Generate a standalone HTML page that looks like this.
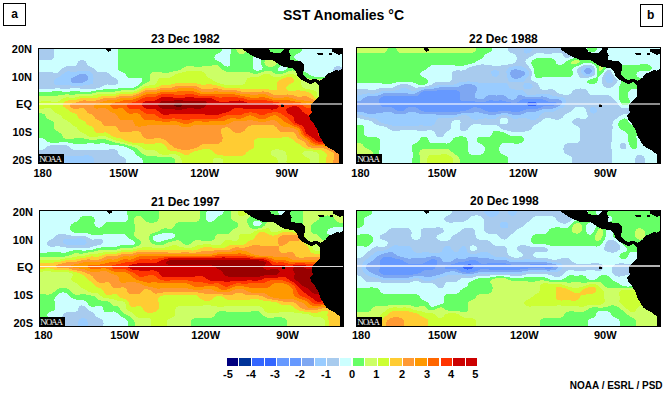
<!DOCTYPE html>
<html><head><meta charset="utf-8">
<style>
html,body{margin:0;padding:0;background:#fff;}
body{width:671px;height:393px;position:relative;overflow:hidden;font-family:"Liberation Sans",sans-serif;font-weight:bold;color:#000;}
.t{position:absolute;white-space:nowrap;line-height:1;}
.box{position:absolute;border:1px solid #000;box-sizing:border-box;width:23px;height:23px;}
.map{position:absolute;overflow:hidden;background:#ccffff;}
.frame{position:absolute;left:0;top:0;right:0;bottom:0;border:1px solid #000;box-sizing:border-box;}
.eq{position:absolute;left:1px;right:1px;height:1px;background:rgba(255,255,255,0.6);}
.map svg{position:absolute;left:0;top:0;display:block;}
.lat{position:absolute;white-space:nowrap;line-height:1;font-size:11px;text-align:right;width:30px;}
.lon{position:absolute;white-space:nowrap;line-height:1;font-size:11px;}
.noaa{position:absolute;left:0;bottom:0;width:26px;height:10px;background:#000;color:#fff;font-family:"Liberation Serif",serif;font-weight:normal;font-size:9px;line-height:11px;text-align:left;padding-left:1.3px;box-sizing:border-box;letter-spacing:-1.1px;overflow:hidden;}
.cb{position:absolute;top:358px;height:8px;width:11.5px;}
.cl{position:absolute;top:369px;font-size:11px;line-height:1;white-space:nowrap;}
</style></head><body>
<div class="box" style="left:3px;top:3px;"></div>
<div class="t" style="left:11.3px;top:7.6px;font-size:12px;">a</div>
<div class="box" style="left:640px;top:4px;"></div>
<div class="t" style="left:647px;top:8.7px;font-size:12px;">b</div>
<div class="t" style="left:283px;top:8px;font-size:14px;">SST Anomalies °C</div>

<div class="t" style="left:151px;top:33px;font-size:12px;">23 Dec 1982</div>
<div class="t" style="left:469px;top:33px;font-size:12px;">22 Dec 1988</div>
<div class="t" style="left:151px;top:196px;font-size:12px;">21 Dec 1997</div>
<div class="t" style="left:470px;top:195px;font-size:12px;">20 Dec 1998</div>

<div class="map" id="m1" style="left:38px;top:48px;width:305px;height:116px;"><svg width="305" height="116" viewBox="0 0 305 116" shape-rendering="crispEdges"><path fill="#7ea7f2" d="M41 26h7v1h-7zM39 27h10v1h-10zM37 28h13v1h-13zM35 29h15v1h-15zM33 30h17v2h-17zM33 32h16v1h-16zM33 33h14v1h-14zM34 34h11v1h-11z"/><path fill="#99ccff" d="M29 23h3v1h-3zM39 23h13v1h-13zM27 24h26v1h-26zM26 25h28v1h-28zM24 26h17v1h-17zM48 26h7v1h-7zM23 27h16v1h-16zM49 27h6v1h-6zM22 28h15v1h-15zM50 28h5v2h-5zM20 29h15v1h-15zM18 30h15v1h-15zM50 30h6v1h-6zM17 31h16v1h-16zM50 31h5v1h-5zM16 32h17v2h-17zM49 32h6v1h-6zM47 33h8v1h-8zM16 34h18v1h-18zM45 34h10v1h-10zM16 35h39v1h-39zM17 36h35v1h-35zM33 37h12v1h-12zM46 107h5v1h-5zM19 108h35v1h-35zM17 109h38v1h-38zM16 110h40v6h-40z"/><path fill="#a8cbee" d="M0 0h16v10h-16zM0 10h15v1h-15zM0 11h14v1h-14zM42 12h4v1h-4zM40 13h8v2h-8zM39 15h10v2h-10zM38 17h12v1h-12zM28 18h24v1h-24zM298 18h4v1h-4zM26 19h28v1h-28zM296 19h8v1h-8zM24 20h32v1h-32zM296 20h9v1h-9zM23 21h34v1h-34zM295 21h8v1h-8zM22 22h36v1h-36zM295 22h2v1h-2zM300 22h1v1h-1zM21 23h8v1h-8zM32 23h7v1h-7zM52 23h7v1h-7zM0 24h15v1h-15zM20 24h7v1h-7zM53 24h16v1h-16zM0 25h26v1h-26zM54 25h17v1h-17zM0 26h24v1h-24zM55 26h17v1h-17zM0 27h23v1h-23zM55 27h18v1h-18zM0 28h22v1h-22zM55 28h19v1h-19zM0 29h20v1h-20zM55 29h21v1h-21zM0 30h18v1h-18zM56 30h22v1h-22zM0 31h17v1h-17zM55 31h24v1h-24zM0 32h16v4h-16zM55 32h25v4h-25zM0 36h17v1h-17zM52 36h17v1h-17zM70 36h8v1h-8zM0 37h33v1h-33zM45 37h21v1h-21zM0 38h64v1h-64zM0 39h62v1h-62zM0 40h17v1h-17zM22 40h10v1h-10zM42 40h16v1h-16zM12 97h17v1h-17zM9 98h22v1h-22zM8 99h24v1h-24zM7 100h26v1h-26zM5 101h30v1h-30zM71 101h6v1h-6zM0 102h79v1h-79zM0 103h80v3h-80zM0 106h81v1h-81zM0 107h46v1h-46zM51 107h31v1h-31zM0 108h19v1h-19zM54 108h30v1h-30zM0 109h17v1h-17zM55 109h31v1h-31zM0 110h16v6h-16zM56 110h31v1h-31zM56 111h32v5h-32z"/><path fill="#ccffff" d="M16 0h52v2h-52zM72 0h8v1h-8zM184 0h9v3h-9zM264 0h41v1h-41zM73 1h7v2h-7zM264 1h30v2h-30zM16 2h53v1h-53zM16 3h54v1h-54zM71 3h9v1h-9zM183 3h10v1h-10zM263 3h31v1h-31zM16 4h64v6h-64zM182 4h11v1h-11zM262 4h34v1h-34zM180 5h13v1h-13zM260 5h19v1h-19zM285 5h6v2h-6zM294 5h4v1h-4zM304 5h1v1h-1zM178 6h14v1h-14zM258 6h22v1h-22zM294 6h6v1h-6zM302 6h3v1h-3zM177 7h15v2h-15zM257 7h48v1h-48zM256 8h49v2h-49zM176 9h16v1h-16zM215 9h3v1h-3zM15 10h65v1h-65zM177 10h15v2h-15zM215 10h6v1h-6zM257 10h48v1h-48zM14 11h66v1h-66zM215 11h8v6h-8zM258 11h47v1h-47zM0 12h42v1h-42zM46 12h34v1h-34zM179 12h13v1h-13zM260 12h45v1h-45zM0 13h40v2h-40zM48 13h32v2h-32zM181 13h11v1h-11zM263 13h42v1h-42zM183 14h9v1h-9zM264 14h41v1h-41zM0 15h39v2h-39zM49 15h31v2h-31zM184 15h8v1h-8zM265 15h40v1h-40zM185 16h7v1h-7zM266 16h39v2h-39zM0 17h38v1h-38zM50 17h30v1h-30zM186 17h6v1h-6zM215 17h9v2h-9zM0 18h28v1h-28zM52 18h28v1h-28zM189 18h1v1h-1zM242 18h3v1h-3zM266 18h32v1h-32zM302 18h3v1h-3zM0 19h26v1h-26zM54 19h26v1h-26zM215 19h10v1h-10zM241 19h8v1h-8zM266 19h30v2h-30zM304 19h1v1h-1zM0 20h24v1h-24zM56 20h24v1h-24zM215 20h9v1h-9zM240 20h9v1h-9zM0 21h23v1h-23zM57 21h23v1h-23zM216 21h8v1h-8zM240 21h8v1h-8zM266 21h29v3h-29zM0 22h22v1h-22zM58 22h23v1h-23zM218 22h3v1h-3zM240 22h6v1h-6zM0 23h21v1h-21zM59 23h24v1h-24zM15 24h5v1h-5zM69 24h16v1h-16zM268 24h25v1h-25zM71 25h16v1h-16zM270 25h20v1h-20zM72 26h16v1h-16zM271 26h18v1h-18zM73 27h15v1h-15zM273 27h15v1h-15zM74 28h15v1h-15zM276 28h11v1h-11zM76 29h14v1h-14zM78 30h26v1h-26zM79 31h25v1h-25zM80 32h24v2h-24zM80 34h23v1h-23zM80 35h22v1h-22zM69 36h1v1h-1zM78 36h23v1h-23zM66 37h34v1h-34zM64 38h34v1h-34zM62 39h34v1h-34zM17 40h5v1h-5zM32 40h10v1h-10zM58 40h22v1h-22zM0 41h65v1h-65zM0 42h58v1h-58zM0 43h14v1h-14zM24 43h8v1h-8zM42 43h11v1h-11zM0 90h5v1h-5zM0 91h7v1h-7zM0 92h8v1h-8zM0 93h9v1h-9zM0 94h12v1h-12zM21 94h9v1h-9zM0 95h35v1h-35zM49 95h7v1h-7zM62 95h5v1h-5zM0 96h71v1h-71zM0 97h12v1h-12zM29 97h52v1h-52zM0 98h9v1h-9zM31 98h55v1h-55zM0 99h8v1h-8zM32 99h57v1h-57zM0 100h7v1h-7zM33 100h58v1h-58zM0 101h5v1h-5zM35 101h36v1h-36zM77 101h16v1h-16zM79 102h16v1h-16zM80 103h16v1h-16zM80 104h17v2h-17zM81 106h17v1h-17zM82 107h17v1h-17zM84 108h17v1h-17zM86 109h16v1h-16zM87 110h17v1h-17zM88 111h16v1h-16zM88 112h17v4h-17z"/><path fill="#66ff66" d="M80 0h104v3h-104zM193 0h5v2h-5zM230 0h16v1h-16zM252 0h12v2h-12zM231 1h15v1h-15zM193 2h6v2h-6zM232 2h13v1h-13zM251 2h13v1h-13zM80 3h103v1h-103zM232 3h12v1h-12zM251 3h12v1h-12zM80 4h102v1h-102zM193 4h7v1h-7zM207 4h2v1h-2zM235 4h8v1h-8zM251 4h11v1h-11zM80 5h100v1h-100zM193 5h8v1h-8zM206 5h5v1h-5zM252 5h8v1h-8zM80 6h98v1h-98zM192 6h20v1h-20zM252 6h6v1h-6zM80 7h97v2h-97zM192 7h22v1h-22zM253 7h4v1h-4zM192 8h24v1h-24zM252 8h4v2h-4zM80 9h96v1h-96zM192 9h23v9h-23zM80 10h97v2h-97zM252 10h5v1h-5zM252 11h6v1h-6zM80 12h99v1h-99zM223 12h4v2h-4zM256 12h4v1h-4zM80 13h101v1h-101zM80 14h103v1h-103zM223 14h3v1h-3zM80 15h104v1h-104zM223 15h4v2h-4zM239 15h1v1h-1zM80 16h105v1h-105zM238 16h3v1h-3zM80 17h94v1h-94zM180 17h6v1h-6zM224 17h4v1h-4zM237 17h6v1h-6zM80 18h68v1h-68zM156 18h8v1h-8zM181 18h8v1h-8zM190 18h25v1h-25zM224 18h6v1h-6zM235 18h7v1h-7zM80 19h66v1h-66zM182 19h33v1h-33zM225 19h16v1h-16zM249 19h1v1h-1zM80 20h64v1h-64zM183 20h32v1h-32zM224 20h16v2h-16zM249 20h6v1h-6zM80 21h63v1h-63zM184 21h32v1h-32zM248 21h8v1h-8zM81 22h59v1h-59zM186 22h32v1h-32zM221 22h19v1h-19zM246 22h8v1h-8zM255 22h2v1h-2zM83 23h52v1h-52zM188 23h38v1h-38zM234 23h16v1h-16zM265 23h1v1h-1zM85 24h29v1h-29zM124 24h7v1h-7zM212 24h11v1h-11zM235 24h13v1h-13zM265 24h3v1h-3zM87 25h26v1h-26zM215 25h5v1h-5zM237 25h8v1h-8zM265 25h5v1h-5zM88 26h24v2h-24zM265 26h6v1h-6zM266 27h7v1h-7zM89 28h23v1h-23zM267 28h9v1h-9zM90 29h22v1h-22zM268 29h19v1h-19zM104 30h8v3h-8zM271 30h14v1h-14zM104 33h7v1h-7zM103 34h6v1h-6zM102 35h5v1h-5zM101 36h4v1h-4zM100 37h4v1h-4zM98 38h4v1h-4zM96 39h5v1h-5zM80 40h19v1h-19zM65 41h32v1h-32zM58 42h25v1h-25zM14 43h10v1h-10zM32 43h10v1h-10zM53 43h24v1h-24zM0 44h58v1h-58zM0 45h54v1h-54zM0 46h27v1h-27zM31 46h6v1h-6zM0 47h20v1h-20zM0 65h4v1h-4zM0 66h7v2h-7zM0 68h8v2h-8zM0 70h9v1h-9zM0 71h11v1h-11zM0 72h13v1h-13zM0 73h15v1h-15zM0 74h16v7h-16zM0 81h17v1h-17zM0 82h18v1h-18zM0 83h20v1h-20zM0 84h21v1h-21zM0 85h23v1h-23zM0 86h24v2h-24zM0 88h25v2h-25zM5 90h22v1h-22zM36 90h10v1h-10zM7 91h44v1h-44zM59 91h9v1h-9zM8 92h63v1h-63zM9 93h65v1h-65zM12 94h9v1h-9zM30 94h47v1h-47zM35 95h14v1h-14zM56 95h6v1h-6zM67 95h15v1h-15zM71 96h16v1h-16zM81 97h9v1h-9zM86 98h8v1h-8zM89 99h8v1h-8zM91 100h8v1h-8zM93 101h7v1h-7zM95 102h6v1h-6zM96 103h6v1h-6zM97 104h6v1h-6zM97 105h7v1h-7zM98 106h8v1h-8zM99 107h9v1h-9zM101 108h18v1h-18zM102 109h32v1h-32zM104 110h32v1h-32zM104 111h33v1h-33zM105 112h32v4h-32z"/><path fill="#ccff66" d="M198 0h7v2h-7zM199 2h7v1h-7zM199 3h9v1h-9zM200 4h7v1h-7zM201 5h5v1h-5zM227 12h8v1h-8zM227 13h10v1h-10zM226 14h12v1h-12zM227 15h12v1h-12zM227 16h11v1h-11zM174 17h6v1h-6zM228 17h9v1h-9zM148 18h8v1h-8zM164 18h17v1h-17zM230 18h5v1h-5zM146 19h36v1h-36zM144 20h39v1h-39zM143 21h41v1h-41zM140 22h46v1h-46zM254 22h1v1h-1zM135 23h13v1h-13zM164 23h24v1h-24zM226 23h8v1h-8zM250 23h8v1h-8zM114 24h10v1h-10zM131 24h13v1h-13zM166 24h46v1h-46zM223 24h12v1h-12zM248 24h10v1h-10zM113 25h27v1h-27zM167 25h48v1h-48zM220 25h17v1h-17zM245 25h14v1h-14zM112 26h25v1h-25zM168 26h57v1h-57zM232 26h17v1h-17zM256 26h3v1h-3zM112 27h24v1h-24zM168 27h55v1h-55zM233 27h13v1h-13zM258 27h1v1h-1zM112 28h22v1h-22zM169 28h52v1h-52zM235 28h8v1h-8zM259 28h1v1h-1zM112 29h20v1h-20zM170 29h42v1h-42zM260 29h1v1h-1zM112 30h9v1h-9zM172 30h37v1h-37zM261 30h1v1h-1zM269 30h2v1h-2zM112 31h8v2h-8zM174 31h35v1h-35zM262 31h1v1h-1zM271 31h3v1h-3zM279 31h5v1h-5zM175 32h33v1h-33zM263 32h2v1h-2zM281 32h1v1h-1zM111 33h8v1h-8zM177 33h31v1h-31zM263 33h4v1h-4zM109 34h10v1h-10zM179 34h28v1h-28zM263 34h6v1h-6zM276 34h2v1h-2zM107 35h11v1h-11zM182 35h25v1h-25zM263 35h8v1h-8zM274 35h5v1h-5zM105 36h12v1h-12zM186 36h19v1h-19zM263 36h17v1h-17zM104 37h7v1h-7zM264 37h17v2h-17zM102 38h4v1h-4zM101 39h3v1h-3zM265 39h16v1h-16zM99 40h4v1h-4zM267 40h14v1h-14zM97 41h4v1h-4zM272 41h9v1h-9zM83 42h16v1h-16zM276 42h5v1h-5zM77 43h19v1h-19zM278 43h3v1h-3zM58 44h24v1h-24zM279 44h2v4h-2zM54 45h24v1h-24zM27 46h4v1h-4zM37 46h22v1h-22zM20 47h35v1h-35zM0 48h41v1h-41zM280 48h1v1h-1zM0 49h28v1h-28zM31 49h6v1h-6zM0 50h25v1h-25zM0 51h23v1h-23zM0 52h22v1h-22zM0 53h3v1h-3zM13 53h7v1h-7zM6 60h7v1h-7zM0 61h14v1h-14zM0 62h15v1h-15zM0 63h16v1h-16zM0 64h17v1h-17zM4 65h15v1h-15zM7 66h14v1h-14zM7 67h16v1h-16zM8 68h16v2h-16zM9 70h16v1h-16zM11 71h16v1h-16zM13 72h16v1h-16zM15 73h15v1h-15zM16 74h16v1h-16zM16 75h17v1h-17zM16 76h18v1h-18zM16 77h19v1h-19zM16 78h21v1h-21zM16 79h23v2h-23zM17 81h23v1h-23zM18 82h23v1h-23zM20 83h22v1h-22zM21 84h23v1h-23zM23 85h23v1h-23zM24 86h24v1h-24zM24 87h25v1h-25zM25 88h26v1h-26zM60 88h8v1h-8zM25 89h45v1h-45zM27 90h9v1h-9zM46 90h27v1h-27zM51 91h8v1h-8zM68 91h7v1h-7zM71 92h7v1h-7zM74 93h8v1h-8zM77 94h9v1h-9zM82 95h7v1h-7zM87 96h7v1h-7zM90 97h10v1h-10zM94 98h8v1h-8zM97 99h7v1h-7zM99 100h6v1h-6zM100 101h7v1h-7zM237 101h4v1h-4zM101 102h16v1h-16zM234 102h11v1h-11zM102 103h17v1h-17zM233 103h14v1h-14zM266 103h9v1h-9zM103 104h17v1h-17zM233 104h15v3h-15zM265 104h14v1h-14zM104 105h17v1h-17zM264 105h16v1h-16zM106 106h18v1h-18zM131 106h7v1h-7zM265 106h16v1h-16zM108 107h32v1h-32zM234 107h15v1h-15zM266 107h15v1h-15zM119 108h23v1h-23zM236 108h13v1h-13zM267 108h14v1h-14zM134 109h8v1h-8zM238 109h11v1h-11zM269 109h12v1h-12zM136 110h7v1h-7zM176 110h7v1h-7zM239 110h10v2h-10zM271 110h10v1h-10zM137 111h6v1h-6zM175 111h10v5h-10zM272 111h9v5h-9zM137 112h7v4h-7zM240 112h9v1h-9zM240 113h8v1h-8zM240 114h9v2h-9z"/><path fill="#ccff33" d="M148 23h16v1h-16zM144 24h22v1h-22zM140 25h27v1h-27zM137 26h31v1h-31zM225 26h7v1h-7zM249 26h7v1h-7zM136 27h32v1h-32zM223 27h10v1h-10zM246 27h12v1h-12zM134 28h35v1h-35zM221 28h14v1h-14zM243 28h16v1h-16zM132 29h38v1h-38zM212 29h36v1h-36zM254 29h6v1h-6zM121 30h51v1h-51zM209 30h36v1h-36zM255 30h6v1h-6zM120 31h54v1h-54zM209 31h34v1h-34zM256 31h6v1h-6zM120 32h55v1h-55zM208 32h33v1h-33zM256 32h7v2h-7zM119 33h58v1h-58zM208 33h32v1h-32zM119 34h60v1h-60zM207 34h32v2h-32zM255 34h8v1h-8zM118 35h19v1h-19zM159 35h23v1h-23zM253 35h10v1h-10zM117 36h16v1h-16zM163 36h5v1h-5zM174 36h12v1h-12zM205 36h34v1h-34zM251 36h12v1h-12zM111 37h12v1h-12zM179 37h60v1h-60zM250 37h14v1h-14zM106 38h15v1h-15zM183 38h56v1h-56zM249 38h15v1h-15zM104 39h14v1h-14zM186 39h53v1h-53zM248 39h17v1h-17zM103 40h4v1h-4zM202 40h37v1h-37zM248 40h19v1h-19zM101 41h4v1h-4zM231 41h8v1h-8zM249 41h23v1h-23zM99 42h4v1h-4zM250 42h8v1h-8zM262 42h14v1h-14zM96 43h5v1h-5zM268 43h10v1h-10zM82 44h17v1h-17zM271 44h8v1h-8zM78 45h17v1h-17zM273 45h6v1h-6zM59 46h22v1h-22zM274 46h5v1h-5zM55 47h23v1h-23zM275 47h4v1h-4zM41 48h22v1h-22zM276 48h4v2h-4zM28 49h3v1h-3zM37 49h23v1h-23zM25 50h17v1h-17zM278 50h1v1h-1zM23 51h16v1h-16zM22 52h8v1h-8zM3 53h10v1h-10zM20 53h7v1h-7zM0 54h26v1h-26zM0 55h25v4h-25zM0 59h27v1h-27zM0 60h6v1h-6zM13 60h15v1h-15zM14 61h16v1h-16zM15 62h16v1h-16zM16 63h16v1h-16zM17 64h17v1h-17zM19 65h18v1h-18zM21 66h18v1h-18zM23 67h16v1h-16zM24 68h16v2h-16zM25 70h16v1h-16zM27 71h16v1h-16zM29 72h16v1h-16zM30 73h17v1h-17zM32 74h16v1h-16zM33 75h15v1h-15zM34 76h15v1h-15zM35 77h16v1h-16zM37 78h17v1h-17zM39 79h16v1h-16zM39 80h17v1h-17zM40 81h16v1h-16zM41 82h15v1h-15zM42 83h15v1h-15zM44 84h14v1h-14zM66 84h2v1h-2zM46 85h24v1h-24zM48 86h24v1h-24zM49 87h24v1h-24zM51 88h9v1h-9zM68 88h7v1h-7zM70 89h8v1h-8zM244 89h7v1h-7zM73 90h10v1h-10zM219 90h34v1h-34zM75 91h10v1h-10zM217 91h38v1h-38zM78 92h9v1h-9zM216 92h40v1h-40zM82 93h8v1h-8zM216 93h41v1h-41zM86 94h8v1h-8zM216 94h42v1h-42zM89 95h17v1h-17zM117 95h7v1h-7zM216 95h44v1h-44zM94 96h32v1h-32zM216 96h46v1h-46zM100 97h27v1h-27zM216 97h47v1h-47zM102 98h26v1h-26zM216 98h48v1h-48zM104 99h25v1h-25zM216 99h50v1h-50zM105 100h24v1h-24zM215 100h53v1h-53zM107 101h23v1h-23zM164 101h8v1h-8zM213 101h24v1h-24zM241 101h34v1h-34zM117 102h15v1h-15zM160 102h14v1h-14zM211 102h23v1h-23zM245 102h39v1h-39zM119 103h20v1h-20zM156 103h19v1h-19zM210 103h23v1h-23zM247 103h19v1h-19zM275 103h11v1h-11zM120 104h22v1h-22zM154 104h22v1h-22zM208 104h25v2h-25zM248 104h17v1h-17zM279 104h8v1h-8zM121 105h23v1h-23zM152 105h25v1h-25zM248 105h16v1h-16zM280 105h8v1h-8zM124 106h7v1h-7zM138 106h8v1h-8zM151 106h28v1h-28zM207 106h26v1h-26zM248 106h17v1h-17zM281 106h8v3h-8zM140 107h45v1h-45zM205 107h29v1h-29zM249 107h17v1h-17zM142 108h94v1h-94zM249 108h18v1h-18zM142 109h96v1h-96zM249 109h20v1h-20zM281 109h7v7h-7zM143 110h33v1h-33zM183 110h56v1h-56zM249 110h22v1h-22zM143 111h32v1h-32zM185 111h54v1h-54zM249 111h23v2h-23zM144 112h31v4h-31zM185 112h55v4h-55zM248 113h24v1h-24zM249 114h23v2h-23z"/><path fill="#ffcc33" d="M248 29h6v1h-6zM245 30h10v1h-10zM243 31h13v1h-13zM241 32h15v1h-15zM240 33h16v1h-16zM239 34h16v1h-16zM137 35h22v1h-22zM239 35h14v1h-14zM133 36h30v1h-30zM168 36h6v1h-6zM239 36h12v1h-12zM123 37h56v1h-56zM239 37h11v1h-11zM121 38h16v1h-16zM159 38h24v1h-24zM239 38h10v1h-10zM118 39h16v1h-16zM161 39h25v1h-25zM239 39h9v2h-9zM107 40h15v1h-15zM163 40h12v1h-12zM180 40h22v1h-22zM105 41h14v1h-14zM184 41h47v1h-47zM239 41h10v1h-10zM103 42h4v1h-4zM199 42h51v1h-51zM258 42h4v1h-4zM101 43h4v1h-4zM203 43h21v1h-21zM226 43h42v1h-42zM99 44h4v1h-4zM231 44h40v1h-40zM95 45h6v1h-6zM233 45h40v1h-40zM81 46h17v1h-17zM235 46h14v1h-14zM250 46h24v1h-24zM78 47h17v1h-17zM256 47h19v1h-19zM63 48h18v1h-18zM259 48h5v1h-5zM269 48h7v1h-7zM60 49h18v1h-18zM271 49h5v1h-5zM42 50h23v1h-23zM273 50h5v1h-5zM39 51h23v1h-23zM275 51h3v1h-3zM30 52h15v1h-15zM48 52h10v1h-10zM27 53h14v1h-14zM26 54h12v1h-12zM25 55h9v1h-9zM25 56h7v3h-7zM27 59h6v1h-6zM28 60h7v1h-7zM41 60h5v1h-5zM30 61h17v1h-17zM31 62h17v1h-17zM32 63h17v1h-17zM34 64h15v1h-15zM37 65h14v1h-14zM39 66h15v1h-15zM39 67h16v1h-16zM40 68h16v1h-16zM40 69h17v1h-17zM41 70h16v1h-16zM43 71h16v1h-16zM45 72h16v1h-16zM47 73h16v1h-16zM48 74h16v2h-16zM49 76h16v1h-16zM51 77h15v1h-15zM213 77h23v1h-23zM54 78h24v1h-24zM210 78h27v1h-27zM55 79h24v1h-24zM187 79h3v1h-3zM209 79h30v1h-30zM56 80h24v2h-24zM184 80h8v1h-8zM208 80h31v1h-31zM183 81h10v1h-10zM207 81h33v1h-33zM56 82h25v1h-25zM183 82h11v1h-11zM207 82h34v1h-34zM57 83h25v1h-25zM94 83h7v1h-7zM183 83h12v1h-12zM205 83h37v1h-37zM58 84h8v1h-8zM68 84h35v1h-35zM183 84h14v1h-14zM203 84h53v1h-53zM70 85h33v1h-33zM183 85h74v1h-74zM72 86h32v1h-32zM184 86h74v2h-74zM73 87h31v1h-31zM75 88h30v1h-30zM184 88h75v1h-75zM78 89h28v1h-28zM185 89h59v1h-59zM251 89h8v1h-8zM83 90h25v1h-25zM116 90h7v1h-7zM185 90h34v1h-34zM253 90h7v1h-7zM85 91h41v1h-41zM184 91h33v1h-33zM255 91h7v1h-7zM87 92h41v1h-41zM184 92h32v2h-32zM256 92h8v1h-8zM90 93h39v1h-39zM257 93h9v1h-9zM94 94h36v1h-36zM182 94h34v1h-34zM258 94h9v1h-9zM106 95h11v1h-11zM124 95h7v1h-7zM181 95h35v1h-35zM260 95h8v1h-8zM126 96h6v1h-6zM164 96h52v1h-52zM262 96h6v1h-6zM127 97h7v1h-7zM162 97h54v1h-54zM263 97h6v1h-6zM128 98h7v1h-7zM161 98h55v1h-55zM264 98h6v1h-6zM129 99h7v1h-7zM159 99h57v1h-57zM266 99h7v1h-7zM129 100h10v1h-10zM156 100h59v1h-59zM268 100h18v1h-18zM130 101h13v1h-13zM152 101h12v1h-12zM172 101h41v1h-41zM275 101h14v1h-14zM132 102h28v1h-28zM174 102h37v1h-37zM284 102h7v1h-7zM139 103h17v1h-17zM175 103h35v1h-35zM286 103h7v1h-7zM142 104h12v1h-12zM176 104h32v1h-32zM287 104h8v1h-8zM144 105h8v1h-8zM177 105h31v1h-31zM288 105h8v1h-8zM146 106h5v1h-5zM179 106h28v1h-28zM289 106h7v3h-7zM185 107h20v1h-20zM288 109h8v3h-8zM288 112h7v4h-7z"/><path fill="#ff9933" d="M137 38h22v1h-22zM134 39h27v1h-27zM122 40h18v1h-18zM156 40h7v1h-7zM175 40h5v1h-5zM119 41h17v1h-17zM159 41h25v1h-25zM107 42h15v1h-15zM161 42h38v1h-38zM105 43h14v1h-14zM163 43h13v1h-13zM180 43h23v1h-23zM224 43h2v1h-2zM103 44h4v1h-4zM198 44h33v1h-33zM101 45h4v1h-4zM202 45h31v1h-31zM98 46h5v1h-5zM212 46h8v1h-8zM228 46h7v1h-7zM249 46h1v1h-1zM95 47h6v1h-6zM230 47h26v1h-26zM81 48h17v1h-17zM232 48h27v1h-27zM264 48h5v1h-5zM78 49h17v1h-17zM235 49h11v1h-11zM251 49h20v1h-20zM65 50h17v1h-17zM255 50h18v1h-18zM62 51h17v1h-17zM258 51h17v1h-17zM45 52h3v1h-3zM58 52h11v1h-11zM266 52h11v1h-11zM41 53h24v1h-24zM273 53h3v1h-3zM38 54h24v1h-24zM34 55h24v1h-24zM32 56h25v1h-25zM32 57h24v2h-24zM33 59h23v1h-23zM35 60h6v1h-6zM46 60h12v1h-12zM60 60h8v1h-8zM47 61h23v1h-23zM48 62h23v1h-23zM49 63h23v1h-23zM49 64h25v1h-25zM51 65h26v1h-26zM54 66h24v1h-24zM55 67h24v1h-24zM56 68h24v1h-24zM57 69h23v1h-23zM57 70h24v1h-24zM59 71h23v1h-23zM61 72h34v1h-34zM209 72h6v1h-6zM232 72h5v1h-5zM63 73h32v1h-32zM195 73h25v1h-25zM228 73h11v1h-11zM64 74h32v2h-32zM193 74h47v1h-47zM191 75h50v1h-50zM65 76h32v1h-32zM188 76h54v1h-54zM66 77h31v1h-31zM109 77h32v1h-32zM155 77h58v1h-58zM236 77h7v1h-7zM78 78h22v1h-22zM103 78h40v1h-40zM153 78h57v1h-57zM237 78h8v1h-8zM79 79h108v1h-108zM190 79h19v1h-19zM239 79h13v1h-13zM80 80h104v1h-104zM192 80h16v1h-16zM239 80h17v1h-17zM80 81h103v1h-103zM193 81h14v1h-14zM240 81h18v1h-18zM81 82h102v1h-102zM194 82h13v1h-13zM241 82h19v1h-19zM82 83h12v1h-12zM101 83h82v1h-82zM195 83h10v1h-10zM242 83h18v1h-18zM103 84h80v2h-80zM197 84h6v1h-6zM256 84h5v1h-5zM257 85h4v1h-4zM104 86h80v2h-80zM258 86h3v1h-3zM258 87h4v1h-4zM105 88h79v1h-79zM259 88h4v1h-4zM106 89h79v1h-79zM259 89h5v1h-5zM108 90h8v1h-8zM123 90h62v1h-62zM260 90h5v1h-5zM126 91h58v1h-58zM262 91h5v1h-5zM128 92h56v1h-56zM264 92h5v1h-5zM129 93h55v1h-55zM266 93h4v1h-4zM130 94h52v1h-52zM267 94h4v1h-4zM131 95h50v1h-50zM268 95h3v1h-3zM132 96h32v1h-32zM268 96h4v1h-4zM134 97h28v1h-28zM269 97h5v1h-5zM135 98h26v1h-26zM270 98h15v1h-15zM136 99h23v1h-23zM273 99h17v1h-17zM139 100h17v1h-17zM286 100h6v1h-6zM143 101h9v1h-9zM289 101h5v1h-5zM291 102h5v1h-5zM293 103h4v1h-4zM295 104h3v1h-3zM296 105h4v1h-4zM296 106h5v6h-5zM295 112h6v4h-6z"/><path fill="#ff9900" d="M140 40h16v1h-16zM136 41h23v1h-23zM122 42h39v1h-39zM119 43h20v1h-20zM156 43h7v1h-7zM176 43h4v1h-4zM107 44h15v1h-15zM159 44h39v1h-39zM105 45h14v1h-14zM162 45h40v1h-40zM103 46h5v1h-5zM197 46h15v1h-15zM220 46h8v1h-8zM101 47h4v1h-4zM202 47h28v1h-28zM98 48h5v1h-5zM207 48h25v1h-25zM95 49h6v1h-6zM212 49h9v1h-9zM227 49h8v1h-8zM246 49h5v1h-5zM82 50h16v1h-16zM231 50h24v1h-24zM79 51h16v1h-16zM234 51h24v1h-24zM69 52h16v1h-16zM252 52h14v1h-14zM65 53h17v1h-17zM257 53h16v1h-16zM62 54h15v1h-15zM263 54h12v1h-12zM58 55h16v1h-16zM268 55h6v1h-6zM57 56h16v1h-16zM56 57h16v1h-16zM56 58h17v1h-17zM56 59h18v1h-18zM58 60h2v1h-2zM68 60h7v1h-7zM80 60h5v1h-5zM70 61h16v1h-16zM71 62h16v1h-16zM72 63h16v1h-16zM74 64h15v1h-15zM77 65h14v1h-14zM95 65h5v1h-5zM78 66h24v1h-24zM79 67h24v1h-24zM211 67h2v1h-2zM235 67h3v1h-3zM80 68h23v1h-23zM208 68h8v1h-8zM232 68h8v1h-8zM80 69h24v1h-24zM206 69h12v1h-12zM230 69h11v1h-11zM81 70h24v1h-24zM192 70h6v1h-6zM203 70h17v1h-17zM228 70h15v1h-15zM82 71h24v1h-24zM189 71h55v1h-55zM95 72h22v1h-22zM187 72h22v1h-22zM215 72h17v1h-17zM237 72h8v1h-8zM95 73h29v1h-29zM132 73h7v1h-7zM156 73h8v1h-8zM171 73h24v1h-24zM220 73h8v1h-8zM239 73h7v1h-7zM96 74h46v1h-46zM154 74h39v1h-39zM240 74h8v1h-8zM96 75h49v1h-49zM151 75h40v1h-40zM241 75h9v1h-9zM97 76h91v1h-91zM242 76h10v1h-10zM97 77h12v1h-12zM141 77h14v1h-14zM243 77h11v1h-11zM100 78h3v1h-3zM143 78h10v1h-10zM245 78h11v1h-11zM252 79h7v1h-7zM256 80h5v1h-5zM258 81h4v1h-4zM260 82h2v1h-2zM260 83h3v1h-3zM261 84h2v2h-2zM261 86h3v1h-3zM262 87h3v1h-3zM263 88h3v1h-3zM264 89h3v1h-3zM265 90h4v1h-4zM267 91h3v1h-3zM269 92h3v1h-3zM270 93h2v1h-2zM271 94h2v1h-2zM271 95h4v1h-4zM272 96h5v1h-5zM274 97h13v1h-13zM285 98h4v1h-4z"/><path fill="#ff6600" d="M139 43h17v1h-17zM122 44h37v1h-37zM119 45h43v1h-43zM108 46h15v1h-15zM136 46h11v1h-11zM156 46h41v1h-41zM105 47h15v1h-15zM160 47h42v1h-42zM103 48h15v1h-15zM177 48h30v1h-30zM101 49h6v1h-6zM181 49h3v1h-3zM200 49h12v1h-12zM221 49h6v1h-6zM98 50h6v1h-6zM206 50h25v1h-25zM95 51h7v1h-7zM209 51h25v1h-25zM85 52h15v1h-15zM229 52h23v1h-23zM82 53h16v1h-16zM235 53h22v1h-22zM77 54h17v1h-17zM241 54h22v1h-22zM74 55h16v1h-16zM255 55h13v1h-13zM73 56h16v1h-16zM262 56h11v1h-11zM72 57h17v1h-17zM265 57h8v1h-8zM73 58h16v1h-16zM266 58h7v1h-7zM74 59h16v1h-16zM268 59h5v1h-5zM75 60h5v1h-5zM85 60h6v1h-6zM86 61h16v1h-16zM87 62h16v1h-16zM88 63h17v1h-17zM89 64h17v1h-17zM211 64h3v1h-3zM234 64h6v1h-6zM91 65h4v1h-4zM100 65h8v1h-8zM206 65h13v1h-13zM229 65h14v1h-14zM102 66h15v1h-15zM204 66h17v1h-17zM227 66h17v1h-17zM103 67h15v1h-15zM188 67h23v1h-23zM213 67h22v1h-22zM238 67h8v1h-8zM103 68h17v1h-17zM185 68h23v1h-23zM216 68h16v1h-16zM240 68h7v1h-7zM104 69h17v1h-17zM183 69h23v1h-23zM218 69h12v1h-12zM241 69h8v1h-8zM105 70h19v1h-19zM134 70h3v1h-3zM180 70h12v1h-12zM198 70h5v1h-5zM220 70h8v1h-8zM243 70h7v1h-7zM106 71h38v1h-38zM152 71h37v1h-37zM244 71h7v1h-7zM117 72h70v1h-70zM245 72h7v1h-7zM124 73h8v1h-8zM139 73h17v1h-17zM164 73h7v1h-7zM246 73h7v1h-7zM142 74h12v1h-12zM248 74h6v1h-6zM145 75h6v1h-6zM250 75h5v1h-5zM252 76h4v1h-4zM254 77h5v1h-5zM256 78h5v1h-5zM259 79h3v1h-3zM261 80h2v1h-2zM262 81h2v2h-2zM263 83h2v2h-2zM263 85h3v1h-3zM264 86h2v1h-2zM265 87h2v1h-2zM266 88h3v1h-3zM267 89h4v1h-4zM269 90h3v1h-3zM270 91h3v1h-3zM272 92h2v1h-2zM272 93h3v1h-3zM273 94h4v1h-4zM275 95h5v1h-5zM277 96h10v1h-10z"/><path fill="#ff3300" d="M123 46h13v1h-13zM147 46h9v1h-9zM120 47h40v1h-40zM118 48h59v1h-59zM107 49h16v1h-16zM135 49h12v1h-12zM156 49h25v1h-25zM184 49h16v1h-16zM104 50h17v1h-17zM174 50h32v1h-32zM102 51h17v1h-17zM176 51h33v1h-33zM100 52h17v1h-17zM178 52h23v1h-23zM202 52h27v1h-27zM98 53h9v1h-9zM181 53h10v1h-10zM206 53h29v1h-29zM94 54h11v1h-11zM209 54h32v1h-32zM90 55h14v1h-14zM235 55h20v1h-20zM89 56h15v2h-15zM238 56h5v1h-5zM245 56h17v1h-17zM240 57h3v1h-3zM246 57h19v1h-19zM89 58h16v1h-16zM241 58h2v1h-2zM246 58h8v1h-8zM259 58h7v1h-7zM90 59h16v1h-16zM240 59h11v1h-11zM261 59h7v1h-7zM91 60h17v1h-17zM196 60h9v1h-9zM239 60h10v1h-10zM262 60h11v1h-11zM102 61h16v1h-16zM194 61h39v1h-39zM235 61h13v1h-13zM263 61h10v1h-10zM103 62h16v1h-16zM193 62h55v1h-55zM264 62h9v1h-9zM105 63h16v1h-16zM191 63h58v1h-58zM264 63h10v1h-10zM106 64h16v1h-16zM188 64h23v1h-23zM214 64h20v1h-20zM240 64h9v1h-9zM266 64h8v1h-8zM108 65h15v1h-15zM184 65h22v1h-22zM219 65h10v1h-10zM243 65h7v1h-7zM267 65h6v1h-6zM117 66h8v1h-8zM131 66h36v1h-36zM181 66h23v1h-23zM221 66h6v1h-6zM244 66h8v1h-8zM269 66h3v1h-3zM118 67h70v1h-70zM246 67h8v1h-8zM270 67h1v1h-1zM120 68h65v1h-65zM247 68h8v1h-8zM121 69h62v1h-62zM249 69h7v1h-7zM124 70h10v1h-10zM137 70h43v1h-43zM250 70h6v1h-6zM144 71h8v1h-8zM251 71h5v1h-5zM252 72h4v1h-4zM253 73h4v1h-4zM254 74h3v1h-3zM255 75h4v1h-4zM256 76h5v1h-5zM259 77h5v1h-5zM261 78h4v1h-4zM262 79h4v1h-4zM263 80h3v1h-3zM264 81h3v2h-3zM265 83h2v1h-2zM265 84h3v1h-3zM266 85h2v1h-2zM280 85h1v3h-1zM266 86h4v1h-4zM267 87h4v1h-4zM269 88h4v1h-4zM271 89h3v1h-3zM272 90h4v1h-4zM273 91h4v1h-4zM274 92h4v1h-4zM275 93h5v1h-5zM277 94h8v1h-8zM280 95h6v1h-6z"/><path fill="#cc0000" d="M123 49h12v1h-12zM147 49h9v1h-9zM121 50h53v1h-53zM119 51h57v1h-57zM117 52h19v1h-19zM145 52h33v1h-33zM201 52h1v1h-1zM107 53h16v1h-16zM168 53h13v1h-13zM191 53h15v1h-15zM105 54h17v1h-17zM169 54h40v1h-40zM104 55h17v1h-17zM168 55h67v1h-67zM104 56h16v2h-16zM168 56h70v1h-70zM168 57h72v1h-72zM105 58h16v1h-16zM167 58h74v1h-74zM254 58h5v1h-5zM106 59h16v1h-16zM166 59h74v1h-74zM251 59h10v1h-10zM108 60h16v1h-16zM149 60h7v1h-7zM163 60h33v1h-33zM205 60h34v1h-34zM249 60h13v1h-13zM118 61h19v1h-19zM144 61h50v1h-50zM233 61h2v1h-2zM248 61h15v1h-15zM119 62h74v1h-74zM248 62h16v1h-16zM121 63h70v1h-70zM249 63h15v1h-15zM122 64h66v1h-66zM249 64h17v1h-17zM123 65h61v1h-61zM250 65h17v1h-17zM125 66h6v1h-6zM167 66h14v1h-14zM252 66h17v1h-17zM254 67h16v1h-16zM255 68h16v1h-16zM256 69h16v3h-16zM256 72h17v1h-17zM257 73h17v1h-17zM257 74h18v1h-18zM259 75h17v1h-17zM261 76h15v1h-15zM264 77h13v1h-13zM265 78h12v1h-12zM266 79h12v1h-12zM266 80h13v1h-13zM267 81h12v1h-12zM267 82h13v2h-13zM268 84h12v2h-12zM270 86h10v1h-10zM271 87h9v1h-9zM273 88h9v1h-9zM274 89h8v1h-8zM276 90h7v1h-7zM277 91h7v1h-7zM278 92h6v1h-6zM280 93h5v1h-5z"/><path fill="#990000" d="M136 52h9v1h-9zM123 53h45v1h-45zM122 54h47v1h-47zM121 55h16v1h-16zM143 55h25v1h-25zM120 56h16v2h-16zM144 56h24v2h-24zM121 58h17v1h-17zM143 58h24v1h-24zM122 59h44v1h-44zM124 60h25v1h-25zM156 60h7v1h-7zM137 61h7v1h-7z"/><path fill="#660000" d="M137 55h6v1h-6zM136 56h8v2h-8zM138 58h5v1h-5z"/><path fill="#000" d="M68 0h4v1h-4zM205 0h25v1h-25zM246 0h6v2h-6zM68 1h5v1h-5zM205 1h26v1h-26zM294 1h11v3h-11zM69 2h4v1h-4zM206 2h26v1h-26zM245 2h6v1h-6zM70 3h1v1h-1zM208 3h24v1h-24zM244 3h7v1h-7zM209 4h26v1h-26zM243 4h8v1h-8zM296 4h9v1h-9zM211 5h41v1h-41zM279 5h6v1h-6zM291 5h3v2h-3zM298 5h6v1h-6zM212 6h40v1h-40zM280 6h5v1h-5zM300 6h2v1h-2zM214 7h39v1h-39zM216 8h36v1h-36zM218 9h34v1h-34zM221 10h31v1h-31zM223 11h29v1h-29zM235 12h21v1h-21zM237 13h26v1h-26zM238 14h26v1h-26zM240 15h25v1h-25zM241 16h25v1h-25zM243 17h23v1h-23zM245 18h21v1h-21zM250 19h16v1h-16zM255 20h11v1h-11zM256 21h10v1h-10zM303 21h2v1h-2zM257 22h9v1h-9zM297 22h3v1h-3zM301 22h4v1h-4zM258 23h7v2h-7zM295 23h10v1h-10zM293 24h12v1h-12zM259 25h6v2h-6zM290 25h15v1h-15zM289 26h16v1h-16zM259 27h7v1h-7zM288 27h17v1h-17zM260 28h7v1h-7zM287 28h18v2h-18zM261 29h7v1h-7zM262 30h7v1h-7zM285 30h20v1h-20zM263 31h8v1h-8zM274 31h5v1h-5zM284 31h21v1h-21zM265 32h16v1h-16zM282 32h23v1h-23zM267 33h38v1h-38zM269 34h7v1h-7zM278 34h27v1h-27zM271 35h3v1h-3zM279 35h26v1h-26zM280 36h25v1h-25zM281 37h24v12h-24zM280 49h25v1h-25zM279 50h26v1h-26zM278 51h27v1h-27zM277 52h28v1h-28zM276 53h29v1h-29zM275 54h30v1h-30zM274 55h31v1h-31zM243 56h2v1h-2zM273 56h32v7h-32zM243 57h3v2h-3zM274 63h31v2h-31zM273 65h32v1h-32zM272 66h33v1h-33zM271 67h34v2h-34zM272 69h33v3h-33zM273 72h32v1h-32zM274 73h31v1h-31zM275 74h30v1h-30zM276 75h29v2h-29zM277 77h28v2h-28zM278 79h27v1h-27zM279 80h26v2h-26zM280 82h25v3h-25zM281 85h24v3h-24zM282 88h23v2h-23zM283 90h22v1h-22zM284 91h21v2h-21zM285 93h20v2h-20zM286 95h19v1h-19zM287 96h18v2h-18zM289 98h16v1h-16zM290 99h15v1h-15zM292 100h13v1h-13zM294 101h11v1h-11zM296 102h9v1h-9zM297 103h8v1h-8zM298 104h7v1h-7zM300 105h5v1h-5zM301 106h4v10h-4z"/></svg><div class="eq" style="top:55px;height:2px;background:rgba(255,255,255,.55)"></div><div class="frame"></div><div class="noaa">NOAA</div></div>
<div class="map" id="m2" style="left:356px;top:47px;width:305px;height:117px;"><svg width="305" height="117" viewBox="0 0 305 117" shape-rendering="crispEdges"><path fill="#3366ff" d="M172 55h8v1h-8zM171 56h10v2h-10zM172 58h8v1h-8z"/><path fill="#6699ff" d="M171 53h10v1h-10zM168 54h16v1h-16zM167 55h5v1h-5zM180 55h5v1h-5zM167 56h4v1h-4zM181 56h4v2h-4zM166 57h5v1h-5zM167 58h5v1h-5zM180 58h4v1h-4zM167 59h15v1h-15zM172 60h8v1h-8z"/><path fill="#6699ff" d="M81 43h20v1h-20zM67 44h36v1h-36zM65 45h39v1h-39zM64 46h40v1h-40zM63 47h41v1h-41zM62 48h42v1h-42zM27 49h77v1h-77zM25 50h79v1h-79zM24 51h80v1h-80zM23 52h81v1h-81zM166 52h21v1h-21zM23 53h82v1h-82zM133 53h4v1h-4zM143 53h3v1h-3zM164 53h7v1h-7zM181 53h9v1h-9zM23 54h96v1h-96zM130 54h20v1h-20zM163 54h5v1h-5zM184 54h8v1h-8zM23 55h132v1h-132zM161 55h6v1h-6zM185 55h15v1h-15zM24 56h143v1h-143zM185 56h16v1h-16zM24 57h142v1h-142zM185 57h15v1h-15zM25 58h142v1h-142zM184 58h14v1h-14zM26 59h141v1h-141zM182 59h5v1h-5zM36 60h16v1h-16zM60 60h57v1h-57zM121 60h51v1h-51zM180 60h5v1h-5zM38 61h12v1h-12zM62 61h53v1h-53zM125 61h57v1h-57zM39 62h10v1h-10zM63 62h50v1h-50zM127 62h43v1h-43zM41 63h7v1h-7zM65 63h45v1h-45zM129 63h38v1h-38zM68 64h36v1h-36zM132 64h10v1h-10zM155 64h9v1h-9z"/><path fill="#7ea7f2" d="M230 21h4v1h-4zM158 22h3v1h-3zM229 22h6v1h-6zM155 23h10v1h-10zM228 23h8v2h-8zM155 24h13v1h-13zM154 25h15v3h-15zM229 25h6v1h-6zM230 26h4v1h-4zM155 28h13v1h-13zM155 29h11v1h-11zM156 30h9v1h-9zM158 31h4v1h-4zM108 37h8v1h-8zM105 38h14v1h-14zM103 39h17v1h-17zM83 40h38v1h-38zM78 41h43v1h-43zM68 42h53v1h-53zM65 43h16v1h-16zM101 43h20v1h-20zM63 44h4v1h-4zM103 44h17v1h-17zM61 45h4v1h-4zM104 45h16v1h-16zM27 46h25v1h-25zM59 46h5v1h-5zM104 46h15v5h-15zM25 47h38v1h-38zM22 48h40v1h-40zM132 48h8v1h-8zM141 48h7v1h-7zM162 48h4v1h-4zM11 49h16v1h-16zM130 49h20v1h-20zM161 49h8v1h-8zM185 49h2v1h-2zM9 50h16v1h-16zM129 50h22v1h-22zM161 50h30v1h-30zM7 51h17v1h-17zM104 51h17v1h-17zM128 51h24v1h-24zM160 51h33v1h-33zM6 52h17v1h-17zM104 52h51v1h-51zM158 52h8v1h-8zM187 52h16v1h-16zM5 53h18v1h-18zM105 53h28v1h-28zM137 53h6v1h-6zM146 53h18v1h-18zM190 53h15v1h-15zM0 54h23v2h-23zM119 54h11v1h-11zM150 54h13v1h-13zM192 54h14v1h-14zM155 55h6v1h-6zM200 55h6v1h-6zM0 56h24v2h-24zM201 56h5v1h-5zM200 57h5v1h-5zM0 58h25v1h-25zM198 58h6v1h-6zM0 59h26v1h-26zM187 59h15v1h-15zM0 60h36v1h-36zM52 60h8v1h-8zM117 60h4v1h-4zM185 60h15v1h-15zM0 61h38v1h-38zM50 61h12v1h-12zM115 61h10v1h-10zM182 61h15v1h-15zM0 62h39v1h-39zM49 62h14v1h-14zM113 62h14v1h-14zM170 62h16v1h-16zM0 63h41v1h-41zM48 63h17v1h-17zM110 63h19v1h-19zM167 63h16v1h-16zM0 64h68v1h-68zM104 64h28v1h-28zM142 64h13v1h-13zM164 64h16v1h-16zM8 65h19v1h-19zM36 65h16v1h-16zM60 65h58v1h-58zM123 65h47v1h-47zM11 66h9v1h-9zM38 66h12v1h-12zM63 66h42v1h-42zM127 66h18v1h-18zM152 66h16v1h-16zM80 67h21v1h-21zM132 67h8v1h-8zM156 67h9v1h-9z"/><path fill="#99ccff" d="M167 0h10v1h-10zM168 1h9v2h-9zM168 3h8v1h-8zM168 4h7v1h-7zM168 5h6v1h-6zM170 6h1v1h-1zM157 19h9v1h-9zM230 19h4v1h-4zM153 20h15v1h-15zM227 20h9v1h-9zM152 21h18v1h-18zM226 21h4v1h-4zM234 21h3v1h-3zM151 22h7v1h-7zM161 22h10v1h-10zM225 22h4v1h-4zM235 22h3v1h-3zM137 23h4v1h-4zM151 23h4v1h-4zM165 23h7v1h-7zM225 23h3v2h-3zM236 23h2v2h-2zM135 24h8v3h-8zM150 24h5v1h-5zM168 24h5v1h-5zM150 25h4v1h-4zM169 25h4v3h-4zM225 25h4v1h-4zM235 25h3v1h-3zM151 26h3v2h-3zM226 26h4v1h-4zM234 26h3v1h-3zM251 26h3v1h-3zM136 27h7v1h-7zM227 27h9v1h-9zM250 27h5v2h-5zM136 28h6v1h-6zM151 28h4v2h-4zM168 28h5v1h-5zM228 28h6v1h-6zM138 29h3v1h-3zM166 29h6v1h-6zM249 29h7v2h-7zM151 30h5v1h-5zM165 30h6v1h-6zM152 31h6v1h-6zM162 31h8v1h-8zM249 31h8v2h-8zM152 32h17v2h-17zM250 33h7v2h-7zM111 34h3v1h-3zM153 34h15v1h-15zM103 35h19v1h-19zM251 35h5v1h-5zM101 36h50v1h-50zM168 36h6v1h-6zM98 37h10v1h-10zM116 37h36v1h-36zM168 37h8v1h-8zM81 38h24v1h-24zM119 38h33v1h-33zM167 38h9v1h-9zM78 39h25v1h-25zM120 39h33v1h-33zM167 39h10v1h-10zM73 40h10v1h-10zM121 40h32v1h-32zM168 40h8v1h-8zM45 41h6v1h-6zM66 41h12v1h-12zM121 41h34v1h-34zM168 41h7v1h-7zM43 42h10v1h-10zM63 42h5v1h-5zM121 42h38v1h-38zM39 43h16v1h-16zM60 43h5v1h-5zM121 43h46v1h-46zM25 44h38v1h-38zM120 44h48v1h-48zM23 45h38v1h-38zM120 45h49v1h-49zM11 46h3v1h-3zM19 46h8v1h-8zM52 46h7v1h-7zM119 46h51v1h-51zM6 47h19v1h-19zM119 47h52v1h-52zM180 47h14v1h-14zM1 48h21v1h-21zM119 48h13v1h-13zM140 48h1v1h-1zM148 48h14v1h-14zM166 48h30v1h-30zM0 49h11v1h-11zM119 49h11v1h-11zM150 49h11v1h-11zM169 49h16v1h-16zM187 49h14v1h-14zM0 50h9v1h-9zM119 50h10v1h-10zM151 50h10v1h-10zM191 50h16v1h-16zM0 51h7v1h-7zM121 51h7v1h-7zM152 51h8v1h-8zM193 51h16v1h-16zM0 52h6v1h-6zM155 52h3v1h-3zM203 52h6v1h-6zM0 53h5v1h-5zM205 53h5v1h-5zM206 54h4v3h-4zM205 57h4v1h-4zM204 58h5v1h-5zM202 59h6v1h-6zM200 60h7v1h-7zM235 60h4v1h-4zM197 61h7v1h-7zM234 61h6v1h-6zM186 62h16v1h-16zM234 62h7v3h-7zM183 63h17v1h-17zM180 64h18v1h-18zM0 65h8v1h-8zM27 65h9v1h-9zM52 65h8v1h-8zM118 65h5v1h-5zM170 65h18v1h-18zM235 65h5v1h-5zM0 66h11v1h-11zM20 66h18v1h-18zM50 66h13v1h-13zM105 66h22v1h-22zM145 66h7v1h-7zM168 66h18v1h-18zM237 66h1v1h-1zM3 67h77v1h-77zM101 67h31v1h-31zM140 67h16v1h-16zM165 67h20v1h-20zM7 68h98v1h-98zM111 68h34v1h-34zM151 68h33v1h-33zM9 69h93v1h-93zM113 69h30v1h-30zM153 69h30v1h-30zM13 70h85v1h-85zM114 70h27v1h-27zM155 70h28v1h-28zM19 71h63v1h-63zM115 71h13v1h-13zM131 71h9v1h-9zM157 71h5v1h-5zM171 71h10v1h-10zM21 72h60v1h-60zM118 72h4v1h-4zM174 72h6v1h-6zM22 73h58v1h-58zM23 74h57v1h-57zM25 75h54v1h-54zM28 76h51v1h-51zM32 77h46v1h-46zM36 78h27v1h-27zM67 78h9v1h-9z"/><path fill="#a8cbee" d="M152 0h15v1h-15zM177 0h28v3h-28zM152 1h16v3h-16zM176 3h30v1h-30zM153 4h15v1h-15zM175 4h33v1h-33zM154 5h14v1h-14zM174 5h35v1h-35zM157 6h13v1h-13zM171 6h9v1h-9zM188 6h8v1h-8zM206 6h5v1h-5zM159 7h19v1h-19zM207 7h5v1h-5zM160 8h17v1h-17zM207 8h7v1h-7zM160 9h15v1h-15zM208 9h7v1h-7zM161 10h12v1h-12zM209 10h4v1h-4zM161 11h11v1h-11zM161 12h9v1h-9zM160 13h10v1h-10zM160 14h9v1h-9zM159 15h11v1h-11zM157 16h13v1h-13zM125 17h3v1h-3zM152 17h19v1h-19zM120 18h16v1h-16zM145 18h27v1h-27zM227 18h9v1h-9zM116 19h41v1h-41zM166 19h7v1h-7zM225 19h5v1h-5zM234 19h4v1h-4zM113 20h40v1h-40zM168 20h5v1h-5zM223 20h4v1h-4zM236 20h2v1h-2zM111 21h41v1h-41zM170 21h4v1h-4zM222 21h4v1h-4zM237 21h2v1h-2zM110 22h41v1h-41zM171 22h4v1h-4zM221 22h4v4h-4zM238 22h1v4h-1zM100 23h4v1h-4zM106 23h31v1h-31zM141 23h10v1h-10zM172 23h3v1h-3zM251 23h4v1h-4zM97 24h38v1h-38zM143 24h7v2h-7zM173 24h3v5h-3zM250 24h5v1h-5zM96 25h39v2h-39zM249 25h7v1h-7zM143 26h8v2h-8zM222 26h4v1h-4zM237 26h2v1h-2zM248 26h3v1h-3zM254 26h2v1h-2zM96 27h40v2h-40zM222 27h5v1h-5zM236 27h3v1h-3zM248 27h2v1h-2zM255 27h2v1h-2zM142 28h9v1h-9zM223 28h5v1h-5zM234 28h4v1h-4zM247 28h3v1h-3zM255 28h3v1h-3zM96 29h42v1h-42zM141 29h10v1h-10zM172 29h3v1h-3zM223 29h13v1h-13zM247 29h2v1h-2zM256 29h2v1h-2zM96 30h55v1h-55zM171 30h4v1h-4zM224 30h9v1h-9zM246 30h3v3h-3zM256 30h3v1h-3zM96 31h56v2h-56zM170 31h5v1h-5zM257 31h3v1h-3zM169 32h6v1h-6zM257 32h4v1h-4zM95 33h57v1h-57zM169 33h7v1h-7zM246 33h4v2h-4zM257 33h5v1h-5zM94 34h17v1h-17zM114 34h39v1h-39zM168 34h10v1h-10zM257 34h4v1h-4zM79 35h24v1h-24zM122 35h58v1h-58zM246 35h5v1h-5zM256 35h5v1h-5zM77 36h24v1h-24zM151 36h17v1h-17zM174 36h8v1h-8zM246 36h14v1h-14zM44 37h8v1h-8zM76 37h22v1h-22zM152 37h16v1h-16zM176 37h6v1h-6zM247 37h12v1h-12zM41 38h14v1h-14zM73 38h8v1h-8zM152 38h15v1h-15zM176 38h7v1h-7zM247 38h11v1h-11zM39 39h18v1h-18zM69 39h9v1h-9zM153 39h14v1h-14zM177 39h6v1h-6zM248 39h9v1h-9zM37 40h22v1h-22zM62 40h11v1h-11zM153 40h15v1h-15zM176 40h8v1h-8zM250 40h5v1h-5zM23 41h22v1h-22zM51 41h15v1h-15zM155 41h13v1h-13zM175 41h9v1h-9zM224 41h1v1h-1zM0 42h12v1h-12zM20 42h23v1h-23zM53 42h10v1h-10zM159 42h27v1h-27zM192 42h5v1h-5zM219 42h11v1h-11zM0 43h39v1h-39zM55 43h5v1h-5zM167 43h32v1h-32zM217 43h14v1h-14zM0 44h25v1h-25zM168 44h32v1h-32zM216 44h16v2h-16zM0 45h23v1h-23zM169 45h32v1h-32zM0 46h11v1h-11zM14 46h5v1h-5zM170 46h33v1h-33zM215 46h18v1h-18zM0 47h6v1h-6zM171 47h9v1h-9zM194 47h13v1h-13zM213 47h21v1h-21zM0 48h1v1h-1zM196 48h57v1h-57zM201 49h54v1h-54zM207 50h49v1h-49zM209 51h48v1h-48zM209 52h49v1h-49zM210 53h49v1h-49zM210 54h50v1h-50zM210 55h51v1h-51zM210 56h52v1h-52zM209 57h34v2h-34zM245 57h17v1h-17zM246 58h17v1h-17zM208 59h35v1h-35zM246 59h18v1h-18zM207 60h12v1h-12zM228 60h7v1h-7zM239 60h26v1h-26zM204 61h14v1h-14zM229 61h5v1h-5zM240 61h33v1h-33zM202 62h15v1h-15zM230 62h4v3h-4zM241 62h32v2h-32zM200 63h16v1h-16zM198 64h17v1h-17zM241 64h33v1h-33zM188 65h25v1h-25zM231 65h4v1h-4zM240 65h34v1h-34zM186 66h25v1h-25zM231 66h6v1h-6zM238 66h35v1h-35zM0 67h3v1h-3zM185 67h24v1h-24zM231 67h36v1h-36zM0 68h7v1h-7zM105 68h6v1h-6zM145 68h6v1h-6zM184 68h24v1h-24zM232 68h33v1h-33zM0 69h9v1h-9zM102 69h11v1h-11zM143 69h10v1h-10zM183 69h24v2h-24zM232 69h31v1h-31zM0 70h13v1h-13zM98 70h16v1h-16zM141 70h14v1h-14zM231 70h31v1h-31zM4 71h15v1h-15zM82 71h33v1h-33zM128 71h3v1h-3zM140 71h5v1h-5zM151 71h6v1h-6zM162 71h9v1h-9zM181 71h8v1h-8zM195 71h10v1h-10zM220 71h4v1h-4zM230 71h31v1h-31zM8 72h13v1h-13zM81 72h37v1h-37zM122 72h22v1h-22zM152 72h22v1h-22zM180 72h7v1h-7zM199 72h4v1h-4zM218 72h41v1h-41zM13 73h9v1h-9zM80 73h18v1h-18zM104 73h40v2h-40zM152 73h34v1h-34zM217 73h41v1h-41zM16 74h7v1h-7zM80 74h16v1h-16zM152 74h33v1h-33zM216 74h41v2h-41zM17 75h8v1h-8zM79 75h17v1h-17zM105 75h39v1h-39zM152 75h31v1h-31zM18 76h10v1h-10zM79 76h16v1h-16zM104 76h40v1h-40zM151 76h31v1h-31zM217 76h40v1h-40zM20 77h12v1h-12zM78 77h17v1h-17zM104 77h13v1h-13zM125 77h55v1h-55zM218 77h38v1h-38zM23 78h13v1h-13zM63 78h4v1h-4zM76 78h19v1h-19zM104 78h11v1h-11zM141 78h37v1h-37zM220 78h36v1h-36zM28 79h67v1h-67zM104 79h10v1h-10zM143 79h34v1h-34zM222 79h35v1h-35zM31 80h64v1h-64zM104 80h9v1h-9zM144 80h32v1h-32zM223 80h34v1h-34zM32 81h63v1h-63zM104 81h8v2h-8zM145 81h31v1h-31zM224 81h33v1h-33zM34 82h60v1h-60zM147 82h28v1h-28zM224 82h32v12h-32zM36 83h8v1h-8zM61 83h10v1h-10zM76 83h17v1h-17zM105 83h5v1h-5zM151 83h22v1h-22zM78 84h13v1h-13zM155 84h14v1h-14zM79 85h11v1h-11zM79 86h10v1h-10zM80 87h8v2h-8zM81 89h6v1h-6zM223 94h33v1h-33zM222 95h33v1h-33zM211 96h44v1h-44zM265 96h4v1h-4zM209 97h46v1h-46zM264 97h6v4h-6zM208 98h47v3h-47zM207 101h48v1h-48zM265 101h5v1h-5zM207 102h49v1h-49zM208 103h48v3h-48zM209 106h47v1h-47zM211 107h45v1h-45zM213 108h43v1h-43zM281 108h5v1h-5zM215 109h41v1h-41zM280 109h8v2h-8zM216 110h40v7h-40zM279 111h10v6h-10z"/><path fill="#ccffff" d="M136 0h16v4h-16zM230 0h1v2h-1zM241 0h5v3h-5zM252 0h53v2h-53zM252 2h42v1h-42zM240 3h5v1h-5zM251 3h43v2h-43zM135 4h18v1h-18zM232 4h1v1h-1zM239 4h5v1h-5zM133 5h21v1h-21zM235 5h8v1h-8zM251 5h45v1h-45zM131 6h26v1h-26zM180 6h8v1h-8zM196 6h10v1h-10zM252 6h27v1h-27zM285 6h6v2h-6zM294 6h4v1h-4zM304 6h1v1h-1zM129 7h30v1h-30zM178 7h29v1h-29zM252 7h28v1h-28zM294 7h6v1h-6zM302 7h3v1h-3zM128 8h32v2h-32zM177 8h30v1h-30zM253 8h52v1h-52zM175 9h33v1h-33zM215 9h1v1h-1zM252 9h53v4h-53zM127 10h34v1h-34zM173 10h36v1h-36zM213 10h5v1h-5zM126 11h35v1h-35zM172 11h8v1h-8zM196 11h21v1h-21zM124 12h37v1h-37zM170 12h8v1h-8zM198 12h16v1h-16zM122 13h38v1h-38zM170 13h6v1h-6zM199 13h13v1h-13zM256 13h49v1h-49zM120 14h40v1h-40zM169 14h7v1h-7zM200 14h10v1h-10zM263 14h42v1h-42zM119 15h40v1h-40zM170 15h5v2h-5zM200 15h9v1h-9zM264 15h41v1h-41zM116 16h41v1h-41zM200 16h8v1h-8zM227 16h9v1h-9zM265 16h40v1h-40zM112 17h13v1h-13zM128 17h24v1h-24zM171 17h5v1h-5zM202 17h4v1h-4zM225 17h13v1h-13zM266 17h18v1h-18zM292 17h13v1h-13zM75 18h24v1h-24zM108 18h12v1h-12zM136 18h9v1h-9zM172 18h4v1h-4zM223 18h4v1h-4zM236 18h3v1h-3zM294 18h11v1h-11zM74 19h42v1h-42zM173 19h4v2h-4zM220 19h5v1h-5zM238 19h2v2h-2zM295 19h10v1h-10zM72 20h41v1h-41zM218 20h5v1h-5zM296 20h9v2h-9zM71 21h40v1h-40zM174 21h4v1h-4zM217 21h5v1h-5zM239 21h2v7h-2zM250 21h5v1h-5zM70 22h40v1h-40zM175 22h3v2h-3zM216 22h5v2h-5zM249 22h7v1h-7zM295 22h8v1h-8zM68 23h32v1h-32zM104 23h2v1h-2zM248 23h3v1h-3zM255 23h2v1h-2zM294 23h3v1h-3zM300 23h1v1h-1zM66 24h31v1h-31zM176 24h2v3h-2zM217 24h4v2h-4zM248 24h2v1h-2zM255 24h3v1h-3zM283 24h12v1h-12zM65 25h31v1h-31zM247 25h2v1h-2zM256 25h2v1h-2zM281 25h12v1h-12zM64 26h32v2h-32zM217 26h5v2h-5zM246 26h2v1h-2zM256 26h3v1h-3zM281 26h9v1h-9zM176 27h3v2h-3zM245 27h3v1h-3zM257 27h2v1h-2zM280 27h9v1h-9zM65 28h31v1h-31zM216 28h7v1h-7zM238 28h3v1h-3zM244 28h3v1h-3zM258 28h1v1h-1zM281 28h7v1h-7zM66 29h30v1h-30zM175 29h4v1h-4zM215 29h8v1h-8zM236 29h5v1h-5zM243 29h4v1h-4zM258 29h2v1h-2zM281 29h6v1h-6zM68 30h28v1h-28zM175 30h5v1h-5zM186 30h38v1h-38zM233 30h7v1h-7zM242 30h4v4h-4zM259 30h2v1h-2zM283 30h4v1h-4zM70 31h26v1h-26zM175 31h62v1h-62zM260 31h2v1h-2zM71 32h25v1h-25zM175 32h59v1h-59zM261 32h2v1h-2zM72 33h23v1h-23zM176 33h56v1h-56zM262 33h3v1h-3zM72 34h22v1h-22zM178 34h53v1h-53zM241 34h5v2h-5zM261 34h4v2h-4zM40 35h17v1h-17zM72 35h7v1h-7zM180 35h51v1h-51zM0 36h26v1h-26zM36 36h24v1h-24zM71 36h6v1h-6zM182 36h51v1h-51zM239 36h7v1h-7zM260 36h5v1h-5zM0 37h44v1h-44zM52 37h10v1h-10zM69 37h7v1h-7zM182 37h65v1h-65zM259 37h5v1h-5zM0 38h41v1h-41zM55 38h18v1h-18zM183 38h64v1h-64zM258 38h6v1h-6zM0 39h39v1h-39zM57 39h12v1h-12zM183 39h65v1h-65zM257 39h6v1h-6zM0 40h37v1h-37zM59 40h3v1h-3zM184 40h66v1h-66zM255 40h8v1h-8zM0 41h23v1h-23zM184 41h40v1h-40zM225 41h38v1h-38zM12 42h8v1h-8zM186 42h6v1h-6zM197 42h22v1h-22zM230 42h33v1h-33zM275 42h6v1h-6zM199 43h18v1h-18zM231 43h32v1h-32zM274 43h7v1h-7zM200 44h16v1h-16zM232 44h31v2h-31zM273 44h8v1h-8zM201 45h15v1h-15zM272 45h9v5h-9zM203 46h12v1h-12zM233 46h30v1h-30zM207 47h6v1h-6zM234 47h29v1h-29zM253 48h10v1h-10zM255 49h8v1h-8zM256 50h7v1h-7zM272 50h8v1h-8zM257 51h6v1h-6zM273 51h6v1h-6zM258 52h5v1h-5zM273 52h5v1h-5zM259 53h5v1h-5zM274 53h3v1h-3zM260 54h4v1h-4zM274 54h2v1h-2zM261 55h4v1h-4zM274 55h1v1h-1zM262 56h3v1h-3zM273 56h1v1h-1zM262 57h4v1h-4zM272 57h1v1h-1zM263 58h10v1h-10zM264 59h9v1h-9zM219 60h9v1h-9zM265 60h8v1h-8zM218 61h11v1h-11zM217 62h13v1h-13zM216 63h14v1h-14zM215 64h15v1h-15zM213 65h18v1h-18zM211 66h20v1h-20zM209 67h22v1h-22zM267 67h5v1h-5zM208 68h24v1h-24zM265 68h6v1h-6zM207 69h25v1h-25zM263 69h8v1h-8zM207 70h24v1h-24zM262 70h10v1h-10zM0 71h4v1h-4zM145 71h6v1h-6zM189 71h6v1h-6zM205 71h15v1h-15zM224 71h6v1h-6zM261 71h7v1h-7zM269 71h3v1h-3zM0 72h8v1h-8zM144 72h8v4h-8zM187 72h12v1h-12zM203 72h15v1h-15zM259 72h7v1h-7zM271 72h1v1h-1zM0 73h13v1h-13zM98 73h6v1h-6zM186 73h31v1h-31zM258 73h6v1h-6zM272 73h1v1h-1zM0 74h16v1h-16zM96 74h8v1h-8zM185 74h31v1h-31zM257 74h6v2h-6zM272 74h2v1h-2zM0 75h17v1h-17zM96 75h9v1h-9zM183 75h33v1h-33zM273 75h2v1h-2zM0 76h18v1h-18zM95 76h9v6h-9zM144 76h7v1h-7zM182 76h35v1h-35zM257 76h5v1h-5zM274 76h2v1h-2zM0 77h20v1h-20zM117 77h8v1h-8zM180 77h38v1h-38zM256 77h6v2h-6zM275 77h1v1h-1zM7 78h16v1h-16zM115 78h26v1h-26zM178 78h42v1h-42zM8 79h20v1h-20zM114 79h29v1h-29zM177 79h45v1h-45zM257 79h6v2h-6zM8 80h23v1h-23zM113 80h31v1h-31zM176 80h47v1h-47zM8 81h24v1h-24zM112 81h33v1h-33zM176 81h48v1h-48zM257 81h7v1h-7zM8 82h26v1h-26zM94 82h10v1h-10zM112 82h35v1h-35zM175 82h49v1h-49zM256 82h9v1h-9zM8 83h28v1h-28zM44 83h17v1h-17zM71 83h5v1h-5zM93 83h12v1h-12zM110 83h41v1h-41zM173 83h51v1h-51zM256 83h11v1h-11zM8 84h70v1h-70zM91 84h46v1h-46zM144 84h11v1h-11zM169 84h55v1h-55zM256 84h13v1h-13zM8 85h71v2h-71zM90 85h47v1h-47zM148 85h76v1h-76zM256 85h14v1h-14zM89 86h47v1h-47zM150 86h74v1h-74zM256 86h15v1h-15zM8 87h72v1h-72zM88 87h48v1h-48zM152 87h72v1h-72zM256 87h16v8h-16zM9 88h71v1h-71zM88 88h47v1h-47zM154 88h70v1h-70zM11 89h70v1h-70zM87 89h16v1h-16zM107 89h27v1h-27zM166 89h58v1h-58zM280 89h2v2h-2zM21 90h44v1h-44zM71 90h28v1h-28zM110 90h12v1h-12zM167 90h57v1h-57zM23 91h41v1h-41zM72 91h25v2h-25zM111 91h10v3h-10zM168 91h56v3h-56zM281 91h2v1h-2zM24 92h40v1h-40zM281 92h3v2h-3zM24 93h39v1h-39zM73 93h23v1h-23zM24 94h38v1h-38zM73 94h22v1h-22zM112 94h9v1h-9zM167 94h56v1h-56zM281 94h4v2h-4zM24 95h37v1h-37zM74 95h20v1h-20zM112 95h10v1h-10zM166 95h56v1h-56zM255 95h18v1h-18zM24 96h35v1h-35zM90 96h1v1h-1zM112 96h12v1h-12zM146 96h12v1h-12zM163 96h48v1h-48zM255 96h10v1h-10zM269 96h4v1h-4zM281 96h5v1h-5zM24 97h33v1h-33zM112 97h14v1h-14zM145 97h64v1h-64zM255 97h9v4h-9zM270 97h3v1h-3zM281 97h6v2h-6zM24 98h32v5h-32zM112 98h15v1h-15zM144 98h64v2h-64zM270 98h4v2h-4zM112 99h16v1h-16zM281 99h8v1h-8zM112 100h17v4h-17zM143 100h65v1h-65zM270 100h5v1h-5zM281 100h9v1h-9zM143 101h64v2h-64zM255 101h10v1h-10zM270 101h6v1h-6zM280 101h12v1h-12zM256 102h38v1h-38zM23 103h33v2h-33zM143 103h65v1h-65zM256 103h40v1h-40zM112 104h16v1h-16zM144 104h64v2h-64zM256 104h41v1h-41zM23 105h34v6h-34zM113 105h15v1h-15zM256 105h42v1h-42zM113 106h14v1h-14zM145 106h64v1h-64zM256 106h44v1h-44zM115 107h10v1h-10zM147 107h64v1h-64zM256 107h45v1h-45zM149 108h64v1h-64zM256 108h25v1h-25zM286 108h15v1h-15zM151 109h64v1h-64zM256 109h24v2h-24zM288 109h13v2h-13zM152 110h64v7h-64zM23 111h33v6h-33zM256 111h23v6h-23zM289 111h12v6h-12z"/><path fill="#66ff66" d="M32 0h8v2h-8zM120 0h16v4h-16zM231 0h10v3h-10zM31 2h10v2h-10zM232 3h8v1h-8zM30 4h12v1h-12zM119 4h16v1h-16zM233 4h6v1h-6zM29 5h14v1h-14zM117 5h16v1h-16zM0 6h131v1h-131zM0 7h129v1h-129zM0 8h128v2h-128zM0 10h127v1h-127zM0 11h126v1h-126zM180 11h16v1h-16zM217 11h4v1h-4zM0 12h124v1h-124zM178 12h20v1h-20zM214 12h9v1h-9zM0 13h122v1h-122zM176 13h23v1h-23zM212 13h6v1h-6zM223 13h12v1h-12zM0 14h120v1h-120zM176 14h24v1h-24zM210 14h6v1h-6zM224 14h13v1h-13zM0 15h119v1h-119zM175 15h25v2h-25zM209 15h6v1h-6zM223 15h15v1h-15zM0 16h116v1h-116zM208 16h7v1h-7zM221 16h6v1h-6zM236 16h4v1h-4zM0 17h112v1h-112zM176 17h26v1h-26zM206 17h19v1h-19zM238 17h3v1h-3zM284 17h8v1h-8zM0 18h75v1h-75zM99 18h9v1h-9zM176 18h47v1h-47zM239 18h4v1h-4zM266 18h28v1h-28zM0 19h74v1h-74zM177 19h43v1h-43zM240 19h3v2h-3zM266 19h29v1h-29zM0 20h72v1h-72zM177 20h41v1h-41zM247 20h3v2h-3zM266 20h30v2h-30zM0 21h71v1h-71zM178 21h39v1h-39zM241 21h2v3h-2zM0 22h70v1h-70zM178 22h38v2h-38zM246 22h3v1h-3zM266 22h29v1h-29zM0 23h68v1h-68zM245 23h3v1h-3zM266 23h28v1h-28zM0 24h66v1h-66zM178 24h39v3h-39zM241 24h7v1h-7zM265 24h18v1h-18zM0 25h65v1h-65zM241 25h6v1h-6zM265 25h16v2h-16zM0 26h64v2h-64zM241 26h5v1h-5zM179 27h38v1h-38zM241 27h4v1h-4zM265 27h15v1h-15zM0 28h65v1h-65zM179 28h37v1h-37zM241 28h3v1h-3zM266 28h15v1h-15zM0 29h66v1h-66zM179 29h36v1h-36zM241 29h2v1h-2zM267 29h14v1h-14zM0 30h68v1h-68zM180 30h6v1h-6zM240 30h2v1h-2zM268 30h15v1h-15zM0 31h70v1h-70zM237 31h5v1h-5zM269 31h16v1h-16zM0 32h71v1h-71zM234 32h8v1h-8zM271 32h3v1h-3zM279 32h5v1h-5zM0 33h72v2h-72zM232 33h10v1h-10zM281 33h1v1h-1zM231 34h10v2h-10zM265 34h2v1h-2zM0 35h40v1h-40zM57 35h15v1h-15zM265 35h4v1h-4zM276 35h2v1h-2zM26 36h10v1h-10zM60 36h11v1h-11zM233 36h6v1h-6zM265 36h6v1h-6zM274 36h5v1h-5zM62 37h7v1h-7zM264 37h16v1h-16zM264 38h17v1h-17zM263 39h18v3h-18zM263 42h12v1h-12zM263 43h11v1h-11zM263 44h10v1h-10zM263 45h9v6h-9zM263 51h10v2h-10zM264 53h10v2h-10zM265 55h9v1h-9zM265 56h8v1h-8zM266 57h6v1h-6zM268 71h1v1h-1zM266 72h5v1h-5zM264 73h8v1h-8zM263 74h9v1h-9zM263 75h10v1h-10zM262 76h12v1h-12zM262 77h13v1h-13zM0 78h7v1h-7zM262 78h15v1h-15zM0 79h8v9h-8zM263 79h14v1h-14zM263 80h15v1h-15zM264 81h15v1h-15zM265 82h14v1h-14zM267 83h13v1h-13zM137 84h7v1h-7zM269 84h11v1h-11zM137 85h11v1h-11zM270 85h10v1h-10zM136 86h14v1h-14zM271 86h10v1h-10zM136 87h16v1h-16zM272 87h9v2h-9zM0 88h9v1h-9zM135 88h19v1h-19zM0 89h11v1h-11zM103 89h4v1h-4zM134 89h32v1h-32zM272 89h8v2h-8zM0 90h21v1h-21zM65 90h6v1h-6zM99 90h11v1h-11zM122 90h45v1h-45zM0 91h23v1h-23zM64 91h8v2h-8zM97 91h14v2h-14zM121 91h47v3h-47zM272 91h9v4h-9zM0 92h24v4h-24zM63 93h10v1h-10zM96 93h15v1h-15zM62 94h11v1h-11zM95 94h17v1h-17zM121 94h46v1h-46zM61 95h13v1h-13zM94 95h18v1h-18zM122 95h44v1h-44zM273 95h8v3h-8zM5 96h19v1h-19zM59 96h31v1h-31zM91 96h21v1h-21zM124 96h22v1h-22zM158 96h5v1h-5zM7 97h17v2h-17zM57 97h55v1h-55zM126 97h19v1h-19zM56 98h56v4h-56zM127 98h17v1h-17zM274 98h7v2h-7zM8 99h16v1h-16zM128 99h16v1h-16zM9 100h15v1h-15zM129 100h14v4h-14zM275 100h6v1h-6zM11 101h13v1h-13zM276 101h4v1h-4zM13 102h11v1h-11zM56 102h10v1h-10zM93 102h19v1h-19zM15 103h8v1h-8zM56 103h8v2h-8zM94 103h18v1h-18zM16 104h7v1h-7zM95 104h17v1h-17zM128 104h16v2h-16zM17 105h6v12h-6zM57 105h6v3h-6zM97 105h16v1h-16zM98 106h15v1h-15zM127 106h18v1h-18zM99 107h16v1h-16zM125 107h22v1h-22zM57 108h7v3h-7zM101 108h48v1h-48zM102 109h49v1h-49zM103 110h49v2h-49zM56 111h8v6h-8zM104 112h48v4h-48zM103 116h49v1h-49z"/><path fill="#ccff66" d="M0 0h32v2h-32zM40 0h80v1h-80zM40 1h28v1h-28zM72 1h48v1h-48zM0 2h31v2h-31zM41 2h27v1h-27zM73 2h47v2h-47zM41 3h28v1h-28zM0 4h30v1h-30zM42 4h28v1h-28zM71 4h48v1h-48zM0 5h29v1h-29zM43 5h74v1h-74zM218 13h5v1h-5zM216 14h8v1h-8zM215 15h8v1h-8zM215 16h6v1h-6zM243 19h2v1h-2zM243 20h4v2h-4zM243 22h3v1h-3zM243 23h2v1h-2zM0 96h5v1h-5zM0 97h7v2h-7zM0 99h8v1h-8zM0 100h9v1h-9zM0 101h11v1h-11zM0 102h13v1h-13zM66 102h27v1h-27zM0 103h15v1h-15zM64 103h30v1h-30zM0 104h16v1h-16zM64 104h31v1h-31zM0 105h17v12h-17zM63 105h34v1h-34zM63 106h35v1h-35zM63 107h22v1h-22zM91 107h8v1h-8zM64 108h9v1h-9zM93 108h8v1h-8zM64 109h8v2h-8zM95 109h7v1h-7zM96 110h7v1h-7zM64 111h7v6h-7zM97 111h6v1h-6zM97 112h7v4h-7zM97 116h6v1h-6z"/><path fill="#ccff33" d="M85 107h6v1h-6zM73 108h20v1h-20zM72 109h23v1h-23zM72 110h24v1h-24zM71 111h26v6h-26z"/><path fill="#000" d="M205 0h25v2h-25zM246 0h6v3h-6zM68 1h4v1h-4zM68 2h5v1h-5zM205 2h26v1h-26zM294 2h11v3h-11zM69 3h4v1h-4zM206 3h26v1h-26zM245 3h6v1h-6zM70 4h1v1h-1zM208 4h24v1h-24zM244 4h7v1h-7zM209 5h26v1h-26zM243 5h8v1h-8zM296 5h9v1h-9zM211 6h41v1h-41zM279 6h6v1h-6zM291 6h3v2h-3zM298 6h6v1h-6zM212 7h40v1h-40zM280 7h5v1h-5zM300 7h2v1h-2zM214 8h39v1h-39zM216 9h36v1h-36zM218 10h34v1h-34zM221 11h31v1h-31zM223 12h29v1h-29zM235 13h21v1h-21zM237 14h26v1h-26zM238 15h26v1h-26zM240 16h25v1h-25zM241 17h25v1h-25zM243 18h23v1h-23zM245 19h21v1h-21zM250 20h16v1h-16zM255 21h11v1h-11zM256 22h10v1h-10zM303 22h2v1h-2zM257 23h9v1h-9zM297 23h3v1h-3zM301 23h4v1h-4zM258 24h7v2h-7zM295 24h10v1h-10zM293 25h12v1h-12zM259 26h6v2h-6zM290 26h15v1h-15zM289 27h16v1h-16zM259 28h7v1h-7zM288 28h17v1h-17zM260 29h7v1h-7zM287 29h18v2h-18zM261 30h7v1h-7zM262 31h7v1h-7zM285 31h20v1h-20zM263 32h8v1h-8zM274 32h5v1h-5zM284 32h21v1h-21zM265 33h16v1h-16zM282 33h23v1h-23zM267 34h38v1h-38zM269 35h7v1h-7zM278 35h27v1h-27zM271 36h3v1h-3zM279 36h26v1h-26zM280 37h25v1h-25zM281 38h24v12h-24zM280 50h25v1h-25zM279 51h26v1h-26zM278 52h27v1h-27zM277 53h28v1h-28zM276 54h29v1h-29zM275 55h30v1h-30zM274 56h31v1h-31zM243 57h2v1h-2zM273 57h32v7h-32zM243 58h3v2h-3zM274 64h31v2h-31zM273 66h32v1h-32zM272 67h33v1h-33zM271 68h34v2h-34zM272 70h33v3h-33zM273 73h32v1h-32zM274 74h31v1h-31zM275 75h30v1h-30zM276 76h29v2h-29zM277 78h28v2h-28zM278 80h27v1h-27zM279 81h26v2h-26zM280 83h25v3h-25zM281 86h24v3h-24zM282 89h23v2h-23zM283 91h22v1h-22zM284 92h21v2h-21zM285 94h20v2h-20zM286 96h19v1h-19zM287 97h18v2h-18zM289 99h16v1h-16zM290 100h15v1h-15zM292 101h13v1h-13zM294 102h11v1h-11zM296 103h9v1h-9zM297 104h8v1h-8zM298 105h7v1h-7zM300 106h5v1h-5zM301 107h4v10h-4z"/></svg><div class="eq" style="top:56px;height:2px;background:rgba(255,255,255,.55)"></div><div class="frame"></div><div class="noaa">NOAA</div></div>
<div class="map" id="m3" style="left:39px;top:210px;width:305px;height:117px;"><svg width="305" height="117" viewBox="0 0 305 117" shape-rendering="crispEdges"><path fill="#99ccff" d="M38 28h5v1h-5zM25 29h21v1h-21zM24 30h23v2h-23zM24 32h24v1h-24zM25 33h22v1h-22zM27 34h19v1h-19zM42 108h4v1h-4zM40 109h8v2h-8zM39 111h9v1h-9zM39 112h10v4h-10zM39 116h9v1h-9z"/><path fill="#a8cbee" d="M19 24h8v1h-8zM17 25h15v1h-15zM16 26h31v1h-31zM15 27h34v1h-34zM14 28h24v1h-24zM43 28h8v1h-8zM12 29h13v1h-13zM46 29h7v1h-7zM55 29h8v1h-8zM10 30h14v1h-14zM47 30h17v2h-17zM9 31h15v1h-15zM8 32h16v1h-16zM48 32h16v1h-16zM8 33h17v1h-17zM47 33h16v1h-16zM8 34h19v1h-19zM46 34h16v1h-16zM9 35h49v1h-49zM11 36h5v1h-5zM21 36h33v1h-33zM27 37h24v1h-24zM42 95h1v1h-1zM40 96h6v1h-6zM40 97h7v1h-7zM39 98h9v1h-9zM39 99h10v1h-10zM39 100h11v1h-11zM37 101h15v1h-15zM27 102h27v1h-27zM25 103h30v1h-30zM24 104h32v2h-32zM23 106h34v1h-34zM21 107h38v1h-38zM19 108h23v1h-23zM46 108h15v1h-15zM18 109h22v2h-22zM48 109h15v1h-15zM48 110h16v2h-16zM18 111h21v6h-21zM49 112h15v1h-15zM49 113h16v1h-16zM49 114h15v2h-15zM48 116h16v1h-16z"/><path fill="#ccffff" d="M0 0h68v2h-68zM72 0h16v1h-16zM168 0h17v2h-17zM239 0h7v2h-7zM73 1h15v2h-15zM0 2h69v1h-69zM167 2h17v2h-17zM239 2h6v1h-6zM0 3h70v1h-70zM71 3h17v1h-17zM240 3h4v1h-4zM0 4h88v1h-88zM167 4h16v1h-16zM240 4h3v1h-3zM0 5h89v1h-89zM167 5h14v1h-14zM0 6h43v1h-43zM53 6h36v1h-36zM167 6h12v1h-12zM0 7h41v2h-41zM55 7h34v2h-34zM167 7h11v1h-11zM167 8h10v1h-10zM0 9h40v1h-40zM56 9h33v1h-33zM167 9h9v1h-9zM0 10h39v1h-39zM56 10h32v1h-32zM168 10h7v1h-7zM0 11h38v1h-38zM56 11h31v1h-31zM169 11h4v1h-4zM215 11h6v1h-6zM0 12h35v1h-35zM55 12h12v1h-12zM214 12h8v1h-8zM0 13h34v1h-34zM55 13h11v1h-11zM214 13h9v1h-9zM0 14h32v2h-32zM56 14h9v1h-9zM214 14h8v1h-8zM56 15h8v1h-8zM215 15h6v1h-6zM0 16h31v4h-31zM57 16h6v1h-6zM59 17h2v1h-2zM294 17h11v1h-11zM291 18h14v1h-14zM289 19h16v2h-16zM0 20h32v1h-32zM0 21h33v1h-33zM288 21h15v1h-15zM0 22h35v1h-35zM288 22h9v1h-9zM300 22h1v1h-1zM0 23h49v1h-49zM123 23h11v1h-11zM288 23h7v1h-7zM0 24h19v1h-19zM27 24h25v1h-25zM64 24h22v1h-22zM119 24h17v1h-17zM290 24h3v1h-3zM0 25h17v1h-17zM32 25h55v1h-55zM116 25h20v1h-20zM0 26h16v1h-16zM47 26h41v1h-41zM114 26h22v1h-22zM0 27h15v1h-15zM49 27h40v1h-40zM114 27h21v1h-21zM0 28h14v1h-14zM51 28h39v1h-39zM114 28h19v1h-19zM0 29h12v1h-12zM53 29h2v1h-2zM63 29h29v1h-29zM114 29h15v1h-15zM0 30h10v1h-10zM64 30h30v1h-30zM115 30h10v1h-10zM0 31h9v1h-9zM64 31h31v1h-31zM117 31h5v1h-5zM0 32h8v3h-8zM64 32h32v1h-32zM63 33h33v1h-33zM62 34h33v1h-33zM0 35h9v1h-9zM58 35h23v1h-23zM0 36h11v1h-11zM16 36h5v1h-5zM54 36h24v1h-24zM0 37h27v1h-27zM51 37h11v1h-11zM0 38h57v1h-57zM0 39h54v1h-54zM0 40h34v1h-34zM43 40h4v1h-4zM0 41h30v1h-30zM0 42h8v1h-8zM22 42h5v1h-5zM23 82h2v1h-2zM20 83h8v1h-8zM19 84h10v1h-10zM18 85h12v1h-12zM17 86h14v1h-14zM16 87h16v1h-16zM16 88h18v1h-18zM15 89h22v1h-22zM15 90h30v1h-30zM16 91h31v1h-31zM16 92h32v1h-32zM16 93h33v2h-33zM16 95h26v1h-26zM43 95h7v1h-7zM16 96h24v2h-24zM46 96h6v1h-6zM56 96h7v1h-7zM47 97h17v1h-17zM16 98h23v2h-23zM48 98h16v1h-16zM49 99h15v1h-15zM15 100h24v1h-24zM50 100h15v1h-15zM12 101h25v1h-25zM52 101h13v1h-13zM74 101h1v1h-1zM10 102h17v1h-17zM54 102h23v1h-23zM9 103h16v1h-16zM55 103h24v1h-24zM8 104h16v2h-16zM56 104h24v1h-24zM56 105h25v1h-25zM9 106h14v1h-14zM57 106h25v1h-25zM10 107h11v1h-11zM59 107h25v1h-25zM12 108h7v1h-7zM61 108h25v1h-25zM13 109h5v1h-5zM63 109h24v1h-24zM14 110h4v7h-4zM64 110h24v1h-24zM64 111h25v2h-25zM65 113h24v1h-24zM64 114h25v3h-25z"/><path fill="#66ff66" d="M88 0h32v5h-32zM161 0h7v2h-7zM185 0h7v2h-7zM230 0h9v1h-9zM252 0h12v2h-12zM231 1h8v1h-8zM161 2h6v7h-6zM184 2h8v2h-8zM232 2h7v1h-7zM251 2h13v3h-13zM232 3h8v1h-8zM183 4h9v1h-9zM235 4h5v1h-5zM89 5h31v1h-31zM181 5h11v1h-11zM252 5h12v2h-12zM288 5h1v1h-1zM43 6h10v1h-10zM89 6h8v1h-8zM102 6h18v1h-18zM179 6h13v1h-13zM211 6h1v1h-1zM285 6h6v1h-6zM41 7h14v2h-14zM89 7h7v1h-7zM103 7h17v1h-17zM178 7h14v1h-14zM210 7h4v1h-4zM253 7h11v1h-11zM281 7h14v1h-14zM89 8h6v2h-6zM104 8h16v1h-16zM177 8h15v1h-15zM209 8h7v1h-7zM252 8h12v4h-12zM280 8h15v1h-15zM40 9h16v1h-16zM105 9h14v1h-14zM160 9h7v1h-7zM176 9h17v1h-17zM208 9h10v1h-10zM280 9h16v1h-16zM39 10h17v1h-17zM88 10h7v1h-7zM106 10h13v1h-13zM160 10h8v1h-8zM175 10h19v1h-19zM208 10h13v1h-13zM278 10h19v1h-19zM38 11h18v1h-18zM87 11h8v1h-8zM107 11h11v1h-11zM158 11h11v1h-11zM173 11h23v1h-23zM208 11h7v1h-7zM221 11h2v1h-2zM277 11h21v1h-21zM35 12h20v1h-20zM67 12h28v1h-28zM110 12h5v1h-5zM139 12h59v1h-59zM208 12h6v1h-6zM222 12h6v1h-6zM256 12h8v1h-8zM275 12h25v1h-25zM34 13h21v1h-21zM66 13h29v1h-29zM137 13h62v1h-62zM209 13h5v2h-5zM223 13h4v1h-4zM263 13h1v1h-1zM274 13h31v1h-31zM32 14h24v2h-24zM65 14h31v1h-31zM136 14h63v2h-63zM222 14h4v1h-4zM273 14h32v1h-32zM64 15h32v1h-32zM210 15h5v1h-5zM221 15h5v1h-5zM272 15h33v2h-33zM31 16h26v1h-26zM63 16h33v1h-33zM135 16h64v1h-64zM210 16h14v1h-14zM31 17h28v1h-28zM61 17h35v1h-35zM134 17h64v1h-64zM211 17h12v1h-12zM272 17h22v1h-22zM31 18h65v2h-65zM125 18h3v1h-3zM133 18h63v1h-63zM213 18h6v1h-6zM272 18h19v1h-19zM122 19h72v1h-72zM272 19h17v2h-17zM32 20h64v1h-64zM121 20h72v1h-72zM33 21h63v1h-63zM119 21h73v1h-73zM272 21h16v1h-16zM35 22h60v1h-60zM116 22h75v1h-75zM273 22h15v1h-15zM49 23h46v1h-46zM113 23h10v1h-10zM134 23h56v1h-56zM274 23h14v1h-14zM52 24h12v1h-12zM86 24h9v1h-9zM111 24h8v1h-8zM136 24h42v1h-42zM278 24h12v1h-12zM87 25h8v1h-8zM111 25h5v1h-5zM136 25h41v1h-41zM279 25h11v1h-11zM88 26h8v1h-8zM110 26h4v4h-4zM136 26h40v1h-40zM280 26h9v1h-9zM89 27h8v1h-8zM135 27h41v1h-41zM281 27h7v1h-7zM90 28h8v1h-8zM133 28h43v1h-43zM282 28h5v1h-5zM92 29h8v1h-8zM129 29h46v1h-46zM283 29h4v1h-4zM94 30h7v1h-7zM111 30h4v1h-4zM125 30h12v1h-12zM140 30h16v1h-16zM162 30h11v1h-11zM95 31h7v1h-7zM111 31h6v1h-6zM122 31h11v1h-11zM142 31h12v1h-12zM96 32h6v2h-6zM112 32h17v1h-17zM143 32h10v1h-10zM113 33h14v1h-14zM144 33h8v1h-8zM95 34h6v1h-6zM116 34h9v1h-9zM146 34h4v1h-4zM81 35h19v1h-19zM78 36h19v1h-19zM62 37h32v1h-32zM57 38h24v1h-24zM54 39h24v1h-24zM34 40h9v1h-9zM47 40h12v1h-12zM30 41h25v1h-25zM8 42h14v1h-14zM27 42h22v1h-22zM0 43h35v1h-35zM40 43h4v1h-4zM0 44h33v1h-33zM0 45h30v1h-30zM0 46h26v1h-26zM20 78h8v1h-8zM18 79h12v1h-12zM17 80h14v1h-14zM16 81h16v1h-16zM14 82h9v1h-9zM25 82h8v1h-8zM13 83h7v1h-7zM28 83h6v1h-6zM0 84h7v1h-7zM10 84h9v1h-9zM29 84h7v1h-7zM41 84h6v1h-6zM0 85h18v1h-18zM30 85h22v1h-22zM0 86h17v1h-17zM31 86h25v1h-25zM0 87h16v2h-16zM32 87h25v1h-25zM34 88h24v1h-24zM0 89h15v2h-15zM37 89h22v1h-22zM45 90h17v1h-17zM0 91h16v9h-16zM47 91h22v1h-22zM48 92h23v1h-23zM49 93h23v1h-23zM49 94h24v1h-24zM50 95h24v1h-24zM52 96h4v1h-4zM63 96h16v1h-16zM64 97h16v1h-16zM64 98h17v2h-17zM0 100h15v1h-15zM65 100h17v1h-17zM0 101h12v1h-12zM65 101h9v1h-9zM75 101h8v1h-8zM180 101h7v1h-7zM212 101h8v1h-8zM0 102h10v1h-10zM77 102h7v1h-7zM178 102h43v1h-43zM0 103h9v1h-9zM79 103h6v1h-6zM177 103h45v1h-45zM0 104h8v2h-8zM80 104h7v1h-7zM176 104h47v1h-47zM81 105h8v1h-8zM176 105h48v1h-48zM0 106h9v1h-9zM82 106h9v1h-9zM175 106h51v1h-51zM0 107h10v1h-10zM84 107h8v1h-8zM173 107h55v1h-55zM235 107h8v1h-8zM0 108h12v1h-12zM86 108h7v1h-7zM155 108h91v1h-91zM0 109h13v1h-13zM87 109h7v1h-7zM153 109h94v1h-94zM0 110h14v7h-14zM88 110h7v1h-7zM152 110h96v7h-96zM89 111h6v1h-6zM89 112h7v4h-7zM89 116h6v1h-6z"/><path fill="#ccff66" d="M120 0h41v9h-41zM192 0h7v5h-7zM264 0h41v1h-41zM264 1h30v3h-30zM207 4h2v1h-2zM264 4h32v1h-32zM192 5h8v1h-8zM205 5h6v1h-6zM264 5h15v1h-15zM285 5h3v1h-3zM289 5h2v1h-2zM294 5h4v1h-4zM304 5h1v1h-1zM97 6h5v1h-5zM192 6h19v1h-19zM264 6h16v1h-16zM294 6h6v1h-6zM302 6h3v1h-3zM96 7h7v1h-7zM192 7h18v1h-18zM264 7h17v1h-17zM295 7h10v2h-10zM95 8h9v1h-9zM192 8h17v1h-17zM264 8h16v2h-16zM95 9h10v1h-10zM119 9h41v2h-41zM193 9h15v1h-15zM296 9h9v1h-9zM95 10h11v1h-11zM194 10h14v1h-14zM264 10h14v1h-14zM297 10h8v1h-8zM95 11h12v1h-12zM118 11h40v1h-40zM196 11h12v1h-12zM264 11h13v1h-13zM298 11h7v1h-7zM95 12h15v1h-15zM115 12h24v1h-24zM198 12h10v1h-10zM228 12h7v1h-7zM264 12h11v1h-11zM300 12h5v1h-5zM95 13h42v1h-42zM199 13h10v2h-10zM227 13h10v1h-10zM264 13h10v1h-10zM96 14h40v2h-40zM226 14h12v1h-12zM264 14h9v1h-9zM199 15h11v2h-11zM226 15h14v1h-14zM265 15h7v1h-7zM96 16h39v1h-39zM224 16h17v1h-17zM266 16h6v6h-6zM96 17h38v1h-38zM198 17h13v1h-13zM223 17h20v1h-20zM96 18h29v1h-29zM128 18h5v1h-5zM196 18h17v1h-17zM219 18h8v1h-8zM230 18h15v1h-15zM96 19h26v1h-26zM194 19h29v1h-29zM231 19h15v1h-15zM96 20h25v1h-25zM193 20h25v1h-25zM231 20h11v1h-11zM254 20h1v1h-1zM96 21h23v1h-23zM192 21h23v1h-23zM232 21h7v1h-7zM95 22h21v1h-21zM191 22h23v1h-23zM266 22h7v1h-7zM95 23h18v1h-18zM190 23h22v1h-22zM265 23h9v1h-9zM95 24h16v2h-16zM178 24h23v1h-23zM266 24h12v1h-12zM177 25h23v1h-23zM266 25h13v1h-13zM96 26h14v1h-14zM176 26h24v3h-24zM266 26h14v1h-14zM97 27h13v1h-13zM267 27h14v1h-14zM98 28h12v1h-12zM267 28h15v1h-15zM100 29h10v1h-10zM175 29h24v1h-24zM268 29h15v1h-15zM101 30h10v1h-10zM137 30h3v1h-3zM156 30h6v1h-6zM173 30h13v1h-13zM193 30h5v1h-5zM269 30h16v1h-16zM102 31h9v1h-9zM133 31h9v1h-9zM154 31h31v1h-31zM271 31h3v1h-3zM279 31h5v1h-5zM102 32h10v1h-10zM129 32h14v1h-14zM153 32h31v1h-31zM281 32h1v1h-1zM102 33h11v1h-11zM127 33h17v1h-17zM152 33h31v1h-31zM101 34h15v1h-15zM125 34h21v1h-21zM150 34h14v1h-14zM172 34h10v1h-10zM276 34h2v1h-2zM100 35h33v1h-33zM138 35h20v1h-20zM274 35h5v1h-5zM97 36h33v1h-33zM140 36h16v1h-16zM273 36h7v1h-7zM94 37h9v1h-9zM113 37h13v1h-13zM145 37h8v1h-8zM273 37h8v1h-8zM81 38h17v1h-17zM274 38h7v2h-7zM78 39h16v1h-16zM59 40h23v1h-23zM276 40h5v1h-5zM55 41h23v1h-23zM49 42h15v1h-15zM35 43h5v1h-5zM44 43h15v1h-15zM33 44h17v1h-17zM30 45h16v1h-16zM26 46h12v1h-12zM0 47h33v1h-33zM0 48h26v1h-26zM0 49h21v1h-21zM4 61h8v1h-8zM0 62h30v1h-30zM0 63h33v1h-33zM0 64h34v2h-34zM0 66h33v2h-33zM0 68h32v2h-32zM0 70h33v1h-33zM0 71h34v1h-34zM0 72h36v1h-36zM0 73h38v1h-38zM0 74h39v1h-39zM0 75h40v1h-40zM0 76h41v1h-41zM0 77h42v1h-42zM0 78h20v1h-20zM28 78h16v1h-16zM0 79h18v1h-18zM30 79h16v1h-16zM0 80h17v1h-17zM31 80h17v1h-17zM0 81h16v1h-16zM32 81h17v1h-17zM0 82h14v1h-14zM33 82h19v1h-19zM0 83h13v1h-13zM34 83h25v1h-25zM7 84h3v1h-3zM36 84h5v1h-5zM47 84h13v1h-13zM52 85h9v1h-9zM56 86h7v1h-7zM57 87h7v1h-7zM58 88h12v1h-12zM59 89h16v1h-16zM62 90h16v1h-16zM69 91h15v1h-15zM71 92h15v1h-15zM72 93h14v1h-14zM73 94h14v1h-14zM74 95h13v1h-13zM164 95h8v1h-8zM79 96h8v1h-8zM139 96h39v1h-39zM185 96h36v1h-36zM80 97h7v1h-7zM137 97h86v1h-86zM81 98h6v1h-6zM137 98h87v1h-87zM81 99h7v1h-7zM136 99h89v2h-89zM82 100h7v1h-7zM83 101h8v1h-8zM136 101h44v1h-44zM187 101h25v1h-25zM220 101h6v1h-6zM84 102h9v1h-9zM136 102h42v1h-42zM221 102h7v1h-7zM240 102h15v1h-15zM85 103h9v1h-9zM136 103h41v1h-41zM222 103h41v1h-41zM87 104h8v1h-8zM136 104h40v2h-40zM223 104h47v1h-47zM89 105h7v1h-7zM224 105h48v1h-48zM91 106h6v1h-6zM135 106h40v1h-40zM226 106h48v1h-48zM92 107h7v1h-7zM133 107h40v1h-40zM228 107h7v1h-7zM243 107h39v1h-39zM93 108h18v1h-18zM131 108h24v1h-24zM246 108h38v1h-38zM94 109h18v1h-18zM129 109h24v1h-24zM247 109h38v1h-38zM95 110h17v2h-17zM128 110h24v7h-24zM248 110h38v7h-38zM96 112h16v4h-16zM95 116h17v1h-17z"/><path fill="#ccff33" d="M199 0h6v2h-6zM199 2h7v1h-7zM199 3h9v1h-9zM199 4h8v1h-8zM200 5h5v1h-5zM227 18h3v1h-3zM223 19h8v1h-8zM246 19h4v1h-4zM218 20h13v1h-13zM242 20h12v1h-12zM215 21h17v1h-17zM239 21h17v1h-17zM214 22h6v1h-6zM226 22h17v1h-17zM254 22h3v1h-3zM212 23h7v1h-7zM228 23h13v1h-13zM201 24h17v1h-17zM230 24h9v1h-9zM265 24h1v3h-1zM200 25h17v1h-17zM233 25h2v1h-2zM200 26h16v2h-16zM266 27h1v1h-1zM200 28h15v1h-15zM199 29h15v1h-15zM186 30h7v1h-7zM198 30h13v1h-13zM185 31h24v1h-24zM184 32h24v1h-24zM183 33h24v1h-24zM265 33h2v1h-2zM164 34h8v1h-8zM182 34h23v1h-23zM267 34h2v1h-2zM133 35h5v1h-5zM158 35h32v1h-32zM268 35h3v1h-3zM130 36h10v1h-10zM156 36h32v1h-32zM269 36h4v2h-4zM103 37h10v1h-10zM126 37h19v1h-19zM153 37h11v1h-11zM173 37h13v1h-13zM98 38h63v1h-63zM270 38h4v2h-4zM94 39h65v1h-65zM82 40h16v1h-16zM153 40h1v1h-1zM271 40h5v1h-5zM78 41h16v1h-16zM271 41h10v1h-10zM64 42h18v1h-18zM272 42h9v1h-9zM59 43h19v1h-19zM275 43h6v1h-6zM50 44h16v1h-16zM46 45h17v1h-17zM38 46h14v1h-14zM54 46h6v1h-6zM33 47h14v1h-14zM26 48h15v1h-15zM21 49h16v1h-16zM0 50h26v1h-26zM0 51h22v1h-22zM0 52h15v1h-15zM6 58h5v1h-5zM0 59h15v1h-15zM0 60h30v1h-30zM0 61h4v1h-4zM12 61h22v1h-22zM30 62h8v1h-8zM33 63h8v1h-8zM34 64h9v1h-9zM34 65h11v1h-11zM33 66h13v1h-13zM33 67h14v1h-14zM32 68h16v1h-16zM32 69h17v1h-17zM33 70h17v1h-17zM34 71h18v1h-18zM36 72h17v1h-17zM38 73h16v1h-16zM39 74h16v1h-16zM40 75h16v1h-16zM41 76h16v1h-16zM42 77h17v1h-17zM44 78h18v1h-18zM46 79h17v1h-17zM48 80h16v1h-16zM49 81h16v1h-16zM52 82h13v1h-13zM59 83h7v1h-7zM60 84h7v1h-7zM73 84h5v1h-5zM61 85h18v1h-18zM124 85h34v1h-34zM63 86h17v1h-17zM121 86h38v1h-38zM177 86h6v1h-6zM64 87h17v1h-17zM120 87h40v1h-40zM175 87h10v1h-10zM70 88h14v1h-14zM119 88h42v1h-42zM174 88h12v1h-12zM75 89h12v1h-12zM119 89h44v1h-44zM173 89h15v1h-15zM211 89h9v1h-9zM78 90h10v1h-10zM119 90h46v1h-46zM171 90h53v1h-53zM84 91h5v1h-5zM119 91h113v1h-113zM86 92h4v2h-4zM120 92h118v1h-118zM120 93h120v1h-120zM87 94h3v1h-3zM120 94h122v1h-122zM87 95h4v1h-4zM120 95h44v1h-44zM172 95h80v1h-80zM87 96h5v1h-5zM97 96h5v1h-5zM120 96h19v1h-19zM178 96h7v1h-7zM221 96h33v1h-33zM87 97h16v1h-16zM120 97h17v2h-17zM223 97h32v1h-32zM87 98h17v1h-17zM224 98h32v1h-32zM88 99h16v1h-16zM119 99h17v1h-17zM225 99h33v1h-33zM89 100h16v1h-16zM118 100h18v1h-18zM225 100h35v1h-35zM91 101h15v1h-15zM117 101h19v1h-19zM226 101h39v1h-39zM282 101h7v1h-7zM93 102h15v1h-15zM114 102h22v1h-22zM228 102h12v1h-12zM255 102h17v1h-17zM279 102h10v1h-10zM94 103h42v1h-42zM263 103h26v1h-26zM95 104h41v1h-41zM270 104h18v1h-18zM96 105h40v1h-40zM272 105h16v1h-16zM97 106h38v1h-38zM274 106h15v1h-15zM99 107h34v1h-34zM282 107h7v1h-7zM111 108h20v1h-20zM284 108h5v1h-5zM112 109h17v1h-17zM285 109h4v1h-4zM112 110h16v7h-16zM286 110h4v7h-4z"/><path fill="#ffcc33" d="M220 22h6v1h-6zM243 22h11v1h-11zM219 23h9v1h-9zM241 23h17v1h-17zM218 24h12v1h-12zM239 24h19v1h-19zM217 25h16v1h-16zM235 25h8v1h-8zM216 26h25v1h-25zM216 27h24v1h-24zM215 28h24v1h-24zM214 29h25v1h-25zM211 30h28v1h-28zM260 30h2v1h-2zM209 31h30v1h-30zM250 31h13v1h-13zM208 32h31v1h-31zM249 32h16v1h-16zM207 33h32v1h-32zM248 33h17v1h-17zM205 34h35v1h-35zM246 34h21v1h-21zM190 35h23v1h-23zM221 35h19v1h-19zM244 35h24v1h-24zM188 36h22v1h-22zM240 36h29v2h-29zM164 37h9v1h-9zM186 37h10v1h-10zM200 37h6v1h-6zM161 38h32v1h-32zM240 38h30v2h-30zM159 39h32v1h-32zM98 40h55v1h-55zM154 40h21v1h-21zM240 40h31v1h-31zM94 41h68v1h-68zM241 41h30v1h-30zM82 42h15v1h-15zM129 42h13v1h-13zM150 42h7v1h-7zM242 42h6v1h-6zM254 42h18v1h-18zM78 43h16v1h-16zM255 43h20v1h-20zM66 44h16v1h-16zM256 44h25v2h-25zM63 45h16v1h-16zM52 46h2v1h-2zM60 46h7v1h-7zM257 46h24v1h-24zM47 47h18v1h-18zM260 47h5v1h-5zM41 48h22v1h-22zM37 49h11v1h-11zM51 49h9v1h-9zM26 50h16v1h-16zM22 51h16v1h-16zM15 52h12v1h-12zM0 53h23v1h-23zM0 54h19v1h-19zM0 55h17v2h-17zM0 57h18v1h-18zM0 58h6v1h-6zM11 58h19v1h-19zM15 59h18v1h-18zM30 60h8v1h-8zM34 61h9v1h-9zM38 62h8v1h-8zM41 63h7v1h-7zM43 64h8v1h-8zM45 65h7v1h-7zM46 66h8v1h-8zM47 67h7v1h-7zM48 68h7v1h-7zM49 69h7v1h-7zM50 70h7v1h-7zM52 71h6v1h-6zM53 72h7v1h-7zM66 72h4v1h-4zM54 73h17v1h-17zM55 74h17v1h-17zM56 75h16v1h-16zM57 76h16v1h-16zM59 77h15v1h-15zM82 77h3v1h-3zM62 78h25v1h-25zM63 79h25v1h-25zM105 79h4v1h-4zM64 80h24v1h-24zM104 80h8v1h-8zM65 81h23v1h-23zM103 81h10v1h-10zM65 82h24v1h-24zM102 82h12v1h-12zM124 82h35v1h-35zM66 83h24v1h-24zM101 83h15v1h-15zM118 83h47v1h-47zM196 83h8v1h-8zM67 84h6v1h-6zM78 84h106v1h-106zM194 84h12v1h-12zM79 85h45v1h-45zM158 85h62v1h-62zM80 86h41v1h-41zM159 86h18v1h-18zM183 86h41v1h-41zM81 87h39v1h-39zM160 87h15v1h-15zM185 87h41v1h-41zM84 88h35v1h-35zM161 88h13v1h-13zM186 88h42v1h-42zM87 89h32v1h-32zM163 89h10v1h-10zM188 89h23v1h-23zM220 89h13v1h-13zM88 90h31v1h-31zM165 90h6v1h-6zM224 90h15v1h-15zM89 91h30v1h-30zM232 91h12v1h-12zM90 92h30v3h-30zM238 92h17v1h-17zM240 93h17v1h-17zM242 94h16v1h-16zM91 95h29v1h-29zM252 95h7v1h-7zM92 96h5v1h-5zM102 96h18v1h-18zM254 96h6v1h-6zM103 97h17v1h-17zM255 97h6v1h-6zM104 98h16v1h-16zM256 98h7v1h-7zM283 98h6v1h-6zM104 99h15v1h-15zM258 99h8v1h-8zM279 99h11v1h-11zM105 100h13v1h-13zM260 100h32v1h-32zM106 101h11v1h-11zM265 101h17v1h-17zM289 101h5v1h-5zM108 102h6v1h-6zM272 102h7v1h-7zM289 102h7v1h-7zM289 103h8v1h-8zM288 104h10v1h-10zM288 105h12v1h-12zM289 106h12v4h-12zM290 110h11v7h-11z"/><path fill="#ff9933" d="M243 25h16v1h-16zM241 26h18v1h-18zM240 27h19v1h-19zM239 28h21v1h-21zM239 29h22v1h-22zM239 30h21v1h-21zM239 31h11v1h-11zM239 32h10v1h-10zM239 33h9v1h-9zM240 34h6v1h-6zM213 35h8v1h-8zM240 35h4v1h-4zM210 36h30v1h-30zM196 37h4v1h-4zM206 37h34v1h-34zM193 38h47v1h-47zM191 39h49v1h-49zM175 40h22v1h-22zM203 40h37v1h-37zM162 41h31v1h-31zM208 41h33v1h-33zM97 42h32v1h-32zM142 42h8v1h-8zM157 42h21v1h-21zM210 42h32v1h-32zM248 42h6v1h-6zM94 43h80v1h-80zM212 43h43v1h-43zM82 44h16v1h-16zM215 44h41v1h-41zM79 45h16v1h-16zM220 45h36v1h-36zM67 46h17v1h-17zM90 46h1v1h-1zM234 46h23v1h-23zM65 47h16v1h-16zM249 47h11v1h-11zM265 47h16v1h-16zM63 48h16v1h-16zM251 48h30v1h-30zM48 49h3v1h-3zM60 49h8v1h-8zM73 49h2v1h-2zM253 49h27v1h-27zM42 50h23v1h-23zM38 51h24v1h-24zM27 52h17v1h-17zM23 53h17v1h-17zM19 54h16v1h-16zM17 55h15v2h-15zM18 57h16v1h-16zM30 58h10v1h-10zM33 59h13v1h-13zM38 60h10v1h-10zM43 61h8v1h-8zM61 61h7v1h-7zM46 62h24v1h-24zM48 63h24v1h-24zM51 64h24v1h-24zM52 65h26v1h-26zM54 66h25v1h-25zM54 67h26v1h-26zM55 68h25v1h-25zM56 69h24v1h-24zM57 70h23v1h-23zM58 71h23v1h-23zM60 72h6v1h-6zM70 72h12v1h-12zM87 72h10v1h-10zM71 73h30v1h-30zM72 74h31v1h-31zM72 75h33v1h-33zM73 76h36v1h-36zM74 77h8v1h-8zM85 77h29v1h-29zM87 78h31v1h-31zM121 78h28v1h-28zM88 79h17v1h-17zM109 79h45v1h-45zM164 79h9v1h-9zM196 79h9v1h-9zM88 80h16v1h-16zM112 80h63v1h-63zM193 80h14v1h-14zM88 81h15v1h-15zM113 81h65v1h-65zM191 81h18v1h-18zM89 82h13v1h-13zM114 82h10v1h-10zM159 82h53v1h-53zM90 83h11v1h-11zM116 83h2v1h-2zM165 83h31v1h-31zM204 83h22v1h-22zM184 84h10v1h-10zM206 84h22v1h-22zM220 85h9v1h-9zM224 86h7v1h-7zM226 87h8v1h-8zM228 88h12v1h-12zM233 89h22v1h-22zM239 90h19v1h-19zM244 91h16v1h-16zM255 92h8v1h-8zM257 93h8v1h-8zM258 94h8v1h-8zM259 95h8v1h-8zM260 96h8v1h-8zM261 97h8v1h-8zM279 97h8v1h-8zM263 98h20v1h-20zM266 99h13v1h-13z"/><path fill="#ff9900" d="M197 40h6v1h-6zM193 41h15v1h-15zM178 42h32v1h-32zM174 43h25v1h-25zM202 43h10v1h-10zM98 44h80v1h-80zM207 44h8v1h-8zM95 45h78v1h-78zM211 45h9v1h-9zM84 46h6v1h-6zM91 46h9v1h-9zM216 46h18v1h-18zM81 47h16v1h-16zM229 47h20v1h-20zM79 48h16v1h-16zM233 48h18v1h-18zM68 49h5v1h-5zM75 49h9v1h-9zM89 49h3v1h-3zM235 49h18v1h-18zM65 50h16v1h-16zM247 50h32v1h-32zM62 51h17v1h-17zM250 51h28v1h-28zM44 52h26v1h-26zM40 53h26v1h-26zM35 54h26v1h-26zM32 55h17v2h-17zM34 57h15v1h-15zM40 58h11v1h-11zM62 58h5v1h-5zM46 59h24v1h-24zM48 60h24v1h-24zM51 61h10v1h-10zM68 61h7v1h-7zM70 62h17v1h-17zM72 63h17v1h-17zM75 64h16v1h-16zM78 65h14v1h-14zM79 66h14v1h-14zM80 67h14v1h-14zM80 68h16v1h-16zM80 69h17v1h-17zM80 70h20v1h-20zM81 71h23v1h-23zM82 72h5v1h-5zM97 72h11v1h-11zM112 72h6v1h-6zM101 73h47v1h-47zM235 73h10v1h-10zM103 74h48v1h-48zM233 74h15v1h-15zM105 75h48v1h-48zM232 75h18v1h-18zM109 76h46v1h-46zM165 76h11v1h-11zM196 76h9v1h-9zM231 76h20v1h-20zM114 77h65v1h-65zM193 77h17v1h-17zM229 77h23v1h-23zM118 78h3v1h-3zM149 78h31v1h-31zM191 78h62v1h-62zM154 79h10v1h-10zM173 79h9v1h-9zM188 79h8v1h-8zM205 79h49v1h-49zM175 80h18v1h-18zM207 80h47v1h-47zM178 81h13v1h-13zM209 81h45v1h-45zM212 82h42v1h-42zM226 83h28v1h-28zM228 84h27v1h-27zM229 85h26v1h-26zM231 86h25v1h-25zM234 87h24v1h-24zM240 88h20v1h-20zM255 89h8v1h-8zM258 90h8v1h-8zM260 91h8v1h-8zM263 92h6v1h-6zM265 93h5v1h-5zM266 94h5v1h-5zM267 95h6v1h-6zM282 95h4v1h-4zM268 96h19v1h-19zM269 97h10v1h-10z"/><path fill="#ff6600" d="M199 43h3v1h-3zM178 44h29v1h-29zM173 45h38v1h-38zM100 46h76v1h-76zM208 46h8v1h-8zM97 47h28v1h-28zM214 47h15v1h-15zM95 48h24v1h-24zM227 48h6v1h-6zM84 49h5v1h-5zM92 49h8v1h-8zM111 49h2v1h-2zM230 49h5v1h-5zM81 50h16v1h-16zM232 50h15v1h-15zM79 51h16v1h-16zM234 51h16v1h-16zM70 52h16v1h-16zM237 52h2v1h-2zM245 52h32v1h-32zM66 53h16v1h-16zM249 53h7v1h-7zM266 53h10v1h-10zM61 54h16v1h-16zM49 55h24v3h-24zM51 58h11v1h-11zM67 58h7v1h-7zM70 59h17v1h-17zM72 60h17v1h-17zM75 61h16v1h-16zM87 62h7v1h-7zM89 63h7v1h-7zM91 64h6v1h-6zM92 65h7v1h-7zM109 65h6v1h-6zM93 66h7v1h-7zM105 66h12v1h-12zM94 67h24v1h-24zM96 68h23v1h-23zM97 69h24v1h-24zM100 70h25v1h-25zM131 70h18v1h-18zM231 70h13v1h-13zM104 71h50v1h-50zM228 71h19v1h-19zM108 72h4v1h-4zM118 72h46v1h-46zM226 72h24v1h-24zM148 73h21v1h-21zM175 73h5v1h-5zM197 73h5v1h-5zM209 73h26v1h-26zM245 73h7v1h-7zM151 74h31v1h-31zM194 74h39v1h-39zM248 74h5v1h-5zM153 75h31v1h-31zM191 75h41v1h-41zM250 75h5v1h-5zM155 76h10v1h-10zM176 76h10v1h-10zM189 76h7v1h-7zM205 76h26v1h-26zM251 76h5v1h-5zM179 77h14v1h-14zM210 77h19v1h-19zM252 77h4v1h-4zM180 78h11v1h-11zM253 78h4v1h-4zM182 79h6v1h-6zM254 79h3v1h-3zM254 80h4v2h-4zM254 82h5v2h-5zM255 84h5v1h-5zM255 85h6v1h-6zM256 86h7v1h-7zM258 87h8v1h-8zM260 88h8v1h-8zM263 89h7v1h-7zM266 90h5v1h-5zM268 91h4v1h-4zM269 92h4v1h-4zM270 93h5v1h-5zM271 94h14v1h-14zM273 95h9v1h-9z"/><path fill="#ff3300" d="M176 46h32v1h-32zM125 47h58v1h-58zM186 47h28v1h-28zM119 48h10v1h-10zM211 48h16v1h-16zM100 49h11v1h-11zM113 49h12v1h-12zM225 49h5v1h-5zM97 50h25v1h-25zM228 50h4v1h-4zM95 51h25v1h-25zM230 51h4v1h-4zM86 52h32v1h-32zM231 52h6v1h-6zM239 52h6v1h-6zM82 53h16v1h-16zM232 53h17v1h-17zM256 53h10v1h-10zM77 54h16v1h-16zM233 54h42v1h-42zM73 55h17v1h-17zM246 55h8v1h-8zM267 55h7v1h-7zM73 56h16v2h-16zM74 58h17v1h-17zM87 59h6v1h-6zM89 60h11v1h-11zM111 60h4v1h-4zM91 61h27v1h-27zM94 62h26v1h-26zM96 63h24v1h-24zM97 64h24v1h-24zM99 65h10v1h-10zM115 65h7v1h-7zM100 66h5v1h-5zM117 66h6v1h-6zM156 66h8v1h-8zM118 67h48v1h-48zM239 67h8v1h-8zM119 68h48v1h-48zM225 68h23v1h-23zM121 69h48v1h-48zM223 69h27v1h-27zM125 70h6v1h-6zM149 70h22v1h-22zM208 70h5v1h-5zM219 70h12v1h-12zM244 70h7v1h-7zM154 71h31v1h-31zM191 71h37v1h-37zM247 71h6v1h-6zM164 72h62v1h-62zM250 72h5v1h-5zM169 73h6v1h-6zM180 73h17v1h-17zM202 73h7v1h-7zM252 73h4v1h-4zM182 74h12v1h-12zM253 74h4v1h-4zM184 75h7v1h-7zM255 75h3v1h-3zM186 76h3v1h-3zM256 76h3v1h-3zM256 77h4v1h-4zM257 78h4v1h-4zM257 79h5v1h-5zM258 80h5v1h-5zM258 81h6v1h-6zM259 82h6v1h-6zM259 83h8v1h-8zM260 84h8v1h-8zM261 85h8v1h-8zM263 86h8v1h-8zM266 87h6v1h-6zM268 88h6v1h-6zM270 89h5v1h-5zM271 90h5v1h-5zM272 91h6v1h-6zM282 91h2v1h-2zM273 92h11v1h-11zM275 93h10v1h-10z"/><path fill="#cc0000" d="M183 47h3v1h-3zM129 48h82v1h-82zM125 49h100v1h-100zM122 50h8v1h-8zM220 50h8v1h-8zM120 51h8v1h-8zM225 51h5v1h-5zM118 52h9v1h-9zM227 52h4v1h-4zM98 53h29v1h-29zM227 53h5v1h-5zM93 54h36v1h-36zM226 54h7v1h-7zM90 55h83v1h-83zM226 55h20v1h-20zM254 55h13v1h-13zM89 56h86v1h-86zM225 56h18v1h-18zM245 56h13v1h-13zM262 56h11v1h-11zM89 57h88v1h-88zM224 57h19v1h-19zM246 57h9v1h-9zM265 57h8v1h-8zM91 58h87v1h-87zM225 58h18v1h-18zM246 58h8v1h-8zM267 58h6v1h-6zM93 59h87v1h-87zM227 59h4v1h-4zM239 59h15v1h-15zM100 60h11v1h-11zM115 60h67v1h-67zM240 60h14v1h-14zM118 61h65v1h-65zM241 61h14v1h-14zM120 62h64v2h-64zM240 62h15v1h-15zM239 63h17v1h-17zM121 64h64v1h-64zM238 64h18v1h-18zM122 65h64v1h-64zM225 65h30v1h-30zM123 66h33v1h-33zM164 66h25v1h-25zM221 66h34v1h-34zM166 67h73v1h-73zM247 67h8v1h-8zM167 68h58v1h-58zM248 68h7v1h-7zM169 69h54v1h-54zM250 69h6v1h-6zM171 70h37v1h-37zM213 70h6v1h-6zM251 70h6v1h-6zM185 71h6v1h-6zM253 71h6v1h-6zM255 72h5v1h-5zM256 73h5v1h-5zM257 74h5v1h-5zM258 75h5v1h-5zM259 76h6v1h-6zM260 77h7v1h-7zM261 78h8v1h-8zM262 79h8v1h-8zM263 80h8v1h-8zM264 81h8v1h-8zM265 82h8v1h-8zM267 83h8v1h-8zM268 84h12v1h-12zM269 85h12v1h-12zM271 86h10v1h-10zM272 87h9v1h-9zM274 88h8v1h-8zM275 89h7v1h-7zM276 90h7v1h-7zM278 91h4v1h-4z"/><path fill="#990000" d="M130 50h90v1h-90zM128 51h97v1h-97zM127 52h100v2h-100zM129 54h97v1h-97zM173 55h53v1h-53zM175 56h50v1h-50zM258 56h4v1h-4zM177 57h47v1h-47zM255 57h10v1h-10zM178 58h47v1h-47zM254 58h13v1h-13zM180 59h47v1h-47zM231 59h8v1h-8zM254 59h19v2h-19zM182 60h58v1h-58zM183 61h58v1h-58zM255 61h18v2h-18zM184 62h56v1h-56zM184 63h55v1h-55zM256 63h18v2h-18zM185 64h53v1h-53zM186 65h39v1h-39zM255 65h18v1h-18zM189 66h32v1h-32zM255 66h17v1h-17zM255 67h16v2h-16zM256 69h16v1h-16zM257 70h15v1h-15zM259 71h13v1h-13zM260 72h13v1h-13zM261 73h13v1h-13zM262 74h13v1h-13zM263 75h13v1h-13zM265 76h11v1h-11zM267 77h10v1h-10zM269 78h8v1h-8zM270 79h8v1h-8zM271 80h8v1h-8zM272 81h7v1h-7zM273 82h7v1h-7zM275 83h5v1h-5z"/><path fill="#000" d="M68 0h4v1h-4zM205 0h25v1h-25zM246 0h6v2h-6zM68 1h5v1h-5zM205 1h26v1h-26zM294 1h11v3h-11zM69 2h4v1h-4zM206 2h26v1h-26zM245 2h6v1h-6zM70 3h1v1h-1zM208 3h24v1h-24zM244 3h7v1h-7zM209 4h26v1h-26zM243 4h8v1h-8zM296 4h9v1h-9zM211 5h41v1h-41zM279 5h6v1h-6zM291 5h3v2h-3zM298 5h6v1h-6zM212 6h40v1h-40zM280 6h5v1h-5zM300 6h2v1h-2zM214 7h39v1h-39zM216 8h36v1h-36zM218 9h34v1h-34zM221 10h31v1h-31zM223 11h29v1h-29zM235 12h21v1h-21zM237 13h26v1h-26zM238 14h26v1h-26zM240 15h25v1h-25zM241 16h25v1h-25zM243 17h23v1h-23zM245 18h21v1h-21zM250 19h16v1h-16zM255 20h11v1h-11zM256 21h10v1h-10zM303 21h2v1h-2zM257 22h9v1h-9zM297 22h3v1h-3zM301 22h4v1h-4zM258 23h7v2h-7zM295 23h10v1h-10zM293 24h12v1h-12zM259 25h6v2h-6zM290 25h15v1h-15zM289 26h16v1h-16zM259 27h7v1h-7zM288 27h17v1h-17zM260 28h7v1h-7zM287 28h18v2h-18zM261 29h7v1h-7zM262 30h7v1h-7zM285 30h20v1h-20zM263 31h8v1h-8zM274 31h5v1h-5zM284 31h21v1h-21zM265 32h16v1h-16zM282 32h23v1h-23zM267 33h38v1h-38zM269 34h7v1h-7zM278 34h27v1h-27zM271 35h3v1h-3zM279 35h26v1h-26zM280 36h25v1h-25zM281 37h24v12h-24zM280 49h25v1h-25zM279 50h26v1h-26zM278 51h27v1h-27zM277 52h28v1h-28zM276 53h29v1h-29zM275 54h30v1h-30zM274 55h31v1h-31zM243 56h2v1h-2zM273 56h32v7h-32zM243 57h3v2h-3zM274 63h31v2h-31zM273 65h32v1h-32zM272 66h33v1h-33zM271 67h34v2h-34zM272 69h33v3h-33zM273 72h32v1h-32zM274 73h31v1h-31zM275 74h30v1h-30zM276 75h29v2h-29zM277 77h28v2h-28zM278 79h27v1h-27zM279 80h26v2h-26zM280 82h25v3h-25zM281 85h24v3h-24zM282 88h23v2h-23zM283 90h22v1h-22zM284 91h21v2h-21zM285 93h20v2h-20zM286 95h19v1h-19zM287 96h18v2h-18zM289 98h16v1h-16zM290 99h15v1h-15zM292 100h13v1h-13zM294 101h11v1h-11zM296 102h9v1h-9zM297 103h8v1h-8zM298 104h7v1h-7zM300 105h5v1h-5zM301 106h4v11h-4z"/></svg><div class="eq" style="top:56px;height:1px;background:rgba(255,255,255,.85)"></div><div class="frame"></div><div class="noaa">NOAA</div></div>
<div class="map" id="m4" style="left:356px;top:210px;width:305px;height:117px;"><svg width="305" height="117" viewBox="0 0 305 117" shape-rendering="crispEdges"><path fill="#3366ff" d="M112 54h3v1h-3zM108 55h9v1h-9zM107 56h11v1h-11zM107 57h10v1h-10zM108 58h8v1h-8zM111 59h1v1h-1z"/><path fill="#6699ff" d="M113 52h5v1h-5zM108 53h11v1h-11zM105 54h7v1h-7zM115 54h6v1h-6zM103 55h5v1h-5zM117 55h4v1h-4zM103 56h4v2h-4zM118 56h3v1h-3zM117 57h4v1h-4zM104 58h4v1h-4zM116 58h4v1h-4zM105 59h6v1h-6zM112 59h7v1h-7zM107 60h9v1h-9z"/><path fill="#6699ff" d="M27 47h9v1h-9zM26 48h13v1h-13zM25 49h19v1h-19zM75 49h4v1h-4zM24 50h23v1h-23zM73 50h8v1h-8zM113 50h7v1h-7zM24 51h24v1h-24zM71 51h10v1h-10zM109 51h13v1h-13zM24 52h26v1h-26zM69 52h12v1h-12zM102 52h11v1h-11zM118 52h5v1h-5zM24 53h28v1h-28zM67 53h14v1h-14zM99 53h9v1h-9zM119 53h6v1h-6zM131 53h19v1h-19zM24 54h57v1h-57zM95 54h10v1h-10zM121 54h34v1h-34zM174 54h17v1h-17zM24 55h56v2h-56zM91 55h12v1h-12zM121 55h75v1h-75zM89 56h14v2h-14zM121 56h76v2h-76zM24 57h55v2h-55zM89 58h15v1h-15zM120 58h52v1h-52zM189 58h6v1h-6zM23 59h54v1h-54zM101 59h4v1h-4zM119 59h5v1h-5zM133 59h31v1h-31zM23 60h45v1h-45zM103 60h4v1h-4zM116 60h6v1h-6zM23 61h43v1h-43zM105 61h14v1h-14zM24 62h41v1h-41zM110 62h4v1h-4zM25 63h37v1h-37zM27 64h30v1h-30z"/><path fill="#7ea7f2" d="M32 42h5v1h-5zM28 43h10v1h-10zM25 44h15v1h-15zM23 45h18v1h-18zM21 46h23v1h-23zM75 46h5v1h-5zM20 47h7v1h-7zM36 47h12v1h-12zM70 47h14v1h-14zM112 47h10v1h-10zM19 48h7v1h-7zM39 48h13v1h-13zM55 48h30v1h-30zM100 48h2v1h-2zM110 48h23v1h-23zM18 49h7v1h-7zM44 49h31v1h-31zM79 49h7v1h-7zM98 49h40v1h-40zM17 50h7v1h-7zM47 50h26v1h-26zM81 50h5v1h-5zM97 50h16v1h-16zM120 50h31v1h-31zM15 51h9v1h-9zM48 51h23v1h-23zM81 51h6v1h-6zM95 51h14v1h-14zM122 51h31v1h-31zM14 52h10v1h-10zM50 52h19v1h-19zM81 52h21v1h-21zM123 52h68v1h-68zM12 53h12v1h-12zM52 53h15v1h-15zM81 53h18v1h-18zM125 53h6v1h-6zM150 53h46v1h-46zM11 54h13v1h-13zM81 54h14v1h-14zM155 54h19v1h-19zM191 54h9v1h-9zM10 55h14v4h-14zM80 55h11v1h-11zM196 55h5v1h-5zM80 56h9v1h-9zM197 56h5v2h-5zM79 57h10v2h-10zM172 58h17v1h-17zM195 58h6v1h-6zM11 59h12v1h-12zM77 59h24v1h-24zM124 59h9v1h-9zM164 59h36v1h-36zM12 60h11v1h-11zM68 60h35v1h-35zM122 60h50v1h-50zM191 60h3v1h-3zM13 61h10v1h-10zM66 61h28v1h-28zM99 61h6v1h-6zM119 61h47v1h-47zM15 62h9v1h-9zM65 62h24v1h-24zM102 62h8v1h-8zM114 62h8v1h-8zM17 63h8v1h-8zM62 63h25v1h-25zM106 63h12v1h-12zM19 64h8v1h-8zM57 64h27v1h-27zM22 65h58v1h-58zM24 66h33v1h-33zM68 66h8v1h-8zM27 67h26v1h-26z"/><path fill="#99ccff" d="M128 0h15v3h-15zM152 0h9v3h-9zM129 3h14v1h-14zM152 3h8v1h-8zM130 4h12v1h-12zM153 4h7v1h-7zM131 5h10v1h-10zM155 5h3v1h-3zM133 6h5v1h-5zM145 12h6v1h-6zM144 13h8v4h-8zM145 17h7v1h-7zM38 35h4v1h-4zM256 35h1v1h-1zM36 36h18v1h-18zM89 36h5v1h-5zM106 36h3v1h-3zM34 37h21v1h-21zM88 37h7v1h-7zM105 37h5v1h-5zM33 38h23v1h-23zM87 38h8v1h-8zM104 38h6v1h-6zM31 39h25v1h-25zM87 39h9v1h-9zM103 39h8v2h-8zM28 40h29v1h-29zM86 40h11v1h-11zM21 41h37v1h-37zM86 41h12v1h-12zM102 41h9v1h-9zM19 42h13v1h-13zM37 42h23v1h-23zM66 42h7v1h-7zM84 42h28v1h-28zM124 42h8v1h-8zM18 43h10v1h-10zM38 43h76v1h-76zM121 43h13v1h-13zM17 44h8v1h-8zM40 44h95v1h-95zM15 45h8v1h-8zM41 45h96v1h-96zM14 46h7v1h-7zM44 46h31v1h-31zM80 46h59v1h-59zM13 47h7v1h-7zM48 47h22v1h-22zM84 47h28v1h-28zM122 47h28v1h-28zM12 48h7v1h-7zM52 48h3v1h-3zM85 48h15v1h-15zM102 48h8v1h-8zM133 48h19v1h-19zM10 49h8v1h-8zM86 49h12v1h-12zM138 49h17v1h-17zM168 49h6v1h-6zM9 50h8v1h-8zM86 50h11v1h-11zM151 50h39v1h-39zM8 51h7v1h-7zM87 51h8v1h-8zM153 51h42v1h-42zM7 52h7v1h-7zM191 52h10v1h-10zM7 53h5v1h-5zM196 53h9v1h-9zM6 54h5v1h-5zM200 54h6v1h-6zM6 55h4v4h-4zM201 55h6v1h-6zM202 56h5v1h-5zM202 57h4v1h-4zM201 58h5v1h-5zM6 59h5v1h-5zM200 59h5v1h-5zM7 60h5v1h-5zM172 60h19v1h-19zM194 60h10v1h-10zM7 61h6v1h-6zM94 61h5v1h-5zM166 61h36v1h-36zM8 62h7v1h-7zM89 62h13v1h-13zM122 62h48v1h-48zM9 63h8v1h-8zM87 63h19v1h-19zM118 63h48v1h-48zM10 64h9v1h-9zM84 64h37v1h-37zM12 65h10v1h-10zM80 65h11v1h-11zM110 65h6v1h-6zM14 66h10v1h-10zM57 66h11v1h-11zM76 66h12v1h-12zM19 67h8v1h-8zM53 67h31v1h-31zM23 68h34v1h-34zM63 68h18v1h-18zM25 69h29v1h-29zM66 69h13v1h-13zM68 70h7v1h-7z"/><path fill="#a8cbee" d="M96 0h32v3h-32zM143 0h9v4h-9zM161 0h44v2h-44zM161 2h45v1h-45zM95 3h34v1h-34zM160 3h48v1h-48zM94 4h36v1h-36zM142 4h11v1h-11zM160 4h49v1h-49zM92 5h27v1h-27zM122 5h9v1h-9zM141 5h14v1h-14zM158 5h53v1h-53zM90 6h25v1h-25zM125 6h8v1h-8zM138 6h41v1h-41zM197 6h15v1h-15zM89 7h25v1h-25zM126 7h51v1h-51zM199 7h15v1h-15zM88 8h25v1h-25zM127 8h49v1h-49zM200 8h16v2h-16zM88 9h24v1h-24zM128 9h47v1h-47zM89 10h21v1h-21zM128 10h46v1h-46zM201 10h14v1h-14zM90 11h18v1h-18zM128 11h45v1h-45zM202 11h12v1h-12zM93 12h4v1h-4zM128 12h17v1h-17zM151 12h20v1h-20zM204 12h8v1h-8zM128 13h16v4h-16zM152 13h18v1h-18zM207 13h3v1h-3zM152 14h17v1h-17zM152 15h16v1h-16zM152 16h15v1h-15zM80 17h4v1h-4zM128 17h17v1h-17zM152 17h13v1h-13zM35 18h18v1h-18zM67 18h20v1h-20zM108 18h9v1h-9zM128 18h35v1h-35zM33 19h21v1h-21zM65 19h22v1h-22zM106 19h12v1h-12zM128 19h33v1h-33zM32 20h23v1h-23zM65 20h23v2h-23zM105 20h14v1h-14zM128 20h32v1h-32zM31 21h24v1h-24zM104 21h15v1h-15zM129 21h30v1h-30zM30 22h26v1h-26zM65 22h22v1h-22zM102 22h17v1h-17zM130 22h28v1h-28zM28 23h28v1h-28zM65 23h20v1h-20zM101 23h18v1h-18zM132 23h25v1h-25zM26 24h29v1h-29zM65 24h18v1h-18zM99 24h20v1h-20zM141 24h14v1h-14zM24 25h31v2h-31zM65 25h16v2h-16zM97 25h23v1h-23zM142 25h12v1h-12zM96 26h24v1h-24zM143 26h10v1h-10zM24 27h32v2h-32zM64 27h16v1h-16zM95 27h25v1h-25zM144 27h8v1h-8zM64 28h17v1h-17zM95 28h26v1h-26zM145 28h6v1h-6zM26 29h32v1h-32zM62 29h20v1h-20zM94 29h29v1h-29zM148 29h1v1h-1zM29 30h55v1h-55zM92 30h40v1h-40zM252 30h6v1h-6zM31 31h103v1h-103zM251 31h9v1h-9zM32 32h103v1h-103zM250 32h11v1h-11zM32 33h104v1h-104zM250 33h12v1h-12zM31 34h106v1h-106zM249 34h14v1h-14zM31 35h7v1h-7zM42 35h74v1h-74zM118 35h21v1h-21zM164 35h6v1h-6zM249 35h7v1h-7zM257 35h7v1h-7zM20 36h2v1h-2zM29 36h7v1h-7zM54 36h35v1h-35zM94 36h12v1h-12zM109 36h5v1h-5zM120 36h29v1h-29zM162 36h12v1h-12zM249 36h15v1h-15zM18 37h16v1h-16zM55 37h33v1h-33zM95 37h10v1h-10zM110 37h4v2h-4zM121 37h29v1h-29zM161 37h28v1h-28zM248 37h16v3h-16zM16 38h17v1h-17zM56 38h31v2h-31zM95 38h9v1h-9zM121 38h30v2h-30zM161 38h30v1h-30zM15 39h16v1h-16zM96 39h7v1h-7zM111 39h3v1h-3zM161 39h31v1h-31zM14 40h14v1h-14zM57 40h29v1h-29zM97 40h6v1h-6zM111 40h4v1h-4zM119 40h32v1h-32zM162 40h30v1h-30zM249 40h13v1h-13zM12 41h9v1h-9zM58 41h28v1h-28zM98 41h4v1h-4zM111 41h40v1h-40zM163 41h28v1h-28zM251 41h10v1h-10zM11 42h8v1h-8zM60 42h6v1h-6zM73 42h11v1h-11zM112 42h12v1h-12zM132 42h19v1h-19zM165 42h14v1h-14zM255 42h3v1h-3zM10 43h8v1h-8zM114 43h7v1h-7zM134 43h18v1h-18zM166 43h12v1h-12zM9 44h8v1h-8zM135 44h17v1h-17zM167 44h10v2h-10zM8 45h7v1h-7zM137 45h16v1h-16zM7 46h7v1h-7zM139 46h16v1h-16zM166 46h12v1h-12zM5 47h8v1h-8zM150 47h8v1h-8zM163 47h17v1h-17zM0 48h12v1h-12zM152 48h40v1h-40zM205 48h8v1h-8zM0 49h10v1h-10zM155 49h13v1h-13zM174 49h22v1h-22zM201 49h13v1h-13zM0 50h9v1h-9zM190 50h25v1h-25zM0 51h8v1h-8zM195 51h21v1h-21zM0 52h7v2h-7zM201 52h17v1h-17zM205 53h15v1h-15zM235 53h8v1h-8zM263 53h5v1h-5zM0 54h6v6h-6zM206 54h40v1h-40zM259 54h16v1h-16zM207 55h40v1h-40zM258 55h16v1h-16zM207 56h36v1h-36zM245 56h2v1h-2zM257 56h16v1h-16zM206 57h37v2h-37zM246 57h1v2h-1zM256 57h17v6h-17zM205 59h41v1h-41zM0 60h7v2h-7zM204 60h8v1h-8zM218 60h12v1h-12zM239 60h6v1h-6zM202 61h8v1h-8zM0 62h8v1h-8zM170 62h39v1h-39zM0 63h9v1h-9zM166 63h42v1h-42zM257 63h17v1h-17zM0 64h10v1h-10zM121 64h49v1h-49zM192 64h15v1h-15zM258 64h16v1h-16zM2 65h10v1h-10zM91 65h19v1h-19zM116 65h18v1h-18zM154 65h12v1h-12zM196 65h10v1h-10zM259 65h10v1h-10zM5 66h9v1h-9zM88 66h32v1h-32zM198 66h6v1h-6zM262 66h2v1h-2zM6 67h13v1h-13zM84 67h33v1h-33zM7 68h16v1h-16zM57 68h6v1h-6zM81 68h24v1h-24zM8 69h17v1h-17zM54 69h12v1h-12zM79 69h25v1h-25zM9 70h59v1h-59zM75 70h27v1h-27zM10 71h47v1h-47zM63 71h38v1h-38zM25 72h29v1h-29zM65 72h25v1h-25zM77 73h12v1h-12zM79 74h10v1h-10zM80 75h8v1h-8zM81 76h7v1h-7zM82 77h5v1h-5z"/><path fill="#ccffff" d="M16 0h52v2h-52zM72 0h24v1h-24zM230 0h2v1h-2zM240 0h6v2h-6zM73 1h23v2h-23zM231 1h1v1h-1zM16 2h53v1h-53zM240 2h5v1h-5zM16 3h54v1h-54zM71 3h24v1h-24zM240 3h4v1h-4zM15 4h79v1h-79zM241 4h2v1h-2zM13 5h79v1h-79zM119 5h3v1h-3zM11 6h79v1h-79zM115 6h10v1h-10zM179 6h18v1h-18zM252 6h3v1h-3zM9 7h80v1h-80zM114 7h12v1h-12zM177 7h22v1h-22zM253 7h3v1h-3zM8 8h80v2h-80zM113 8h14v1h-14zM176 8h24v1h-24zM252 8h4v3h-4zM112 9h16v1h-16zM175 9h25v1h-25zM216 9h2v1h-2zM8 10h81v1h-81zM110 10h18v1h-18zM174 10h27v1h-27zM215 10h5v1h-5zM8 11h82v1h-82zM108 11h20v1h-20zM173 11h29v1h-29zM214 11h4v1h-4zM252 11h2v1h-2zM8 12h85v1h-85zM97 12h31v1h-31zM171 12h33v1h-33zM212 12h5v1h-5zM234 12h1v1h-1zM8 13h120v2h-120zM170 13h37v1h-37zM210 13h6v1h-6zM232 13h5v1h-5zM169 14h46v1h-46zM231 14h7v1h-7zM7 15h121v1h-121zM168 15h46v1h-46zM230 15h10v3h-10zM6 16h122v1h-122zM167 16h46v1h-46zM4 17h76v1h-76zM84 17h44v1h-44zM165 17h34v1h-34zM204 17h8v1h-8zM0 18h35v1h-35zM53 18h14v1h-14zM87 18h21v1h-21zM117 18h11v1h-11zM163 18h32v1h-32zM230 18h9v2h-9zM0 19h33v1h-33zM54 19h11v1h-11zM87 19h19v1h-19zM118 19h10v1h-10zM161 19h32v1h-32zM0 20h32v1h-32zM55 20h10v2h-10zM88 20h17v1h-17zM119 20h9v1h-9zM160 20h33v1h-33zM230 20h8v2h-8zM250 20h5v1h-5zM0 21h31v1h-31zM88 21h16v1h-16zM119 21h10v1h-10zM159 21h33v1h-33zM250 21h6v1h-6zM0 22h30v1h-30zM56 22h9v2h-9zM87 22h15v1h-15zM119 22h11v1h-11zM158 22h33v1h-33zM231 22h6v1h-6zM250 22h7v5h-7zM0 23h28v1h-28zM85 23h16v1h-16zM119 23h13v1h-13zM157 23h33v1h-33zM231 23h5v1h-5zM0 24h4v1h-4zM13 24h13v1h-13zM55 24h10v3h-10zM83 24h16v1h-16zM119 24h22v1h-22zM155 24h24v1h-24zM233 24h2v1h-2zM15 25h9v1h-9zM81 25h16v1h-16zM120 25h22v1h-22zM154 25h23v1h-23zM16 26h8v1h-8zM81 26h15v1h-15zM120 26h23v1h-23zM153 26h23v1h-23zM17 27h7v2h-7zM56 27h8v2h-8zM80 27h15v1h-15zM120 27h24v1h-24zM152 27h24v1h-24zM249 27h9v1h-9zM81 28h14v1h-14zM121 28h24v1h-24zM151 28h24v1h-24zM249 28h11v1h-11zM17 29h9v1h-9zM58 29h4v1h-4zM82 29h12v1h-12zM123 29h25v1h-25zM149 29h26v1h-26zM249 29h12v1h-12zM17 30h12v1h-12zM84 30h8v1h-8zM132 30h43v1h-43zM248 30h4v1h-4zM258 30h4v1h-4zM17 31h14v1h-14zM134 31h41v1h-41zM247 31h4v1h-4zM260 31h3v1h-3zM16 32h16v1h-16zM135 32h41v1h-41zM247 32h3v1h-3zM261 32h4v1h-4zM15 33h17v1h-17zM136 33h41v1h-41zM246 33h4v1h-4zM262 33h4v1h-4zM14 34h17v1h-17zM137 34h53v1h-53zM245 34h4v1h-4zM263 34h4v1h-4zM13 35h18v1h-18zM116 35h2v1h-2zM139 35h25v1h-25zM170 35h24v1h-24zM244 35h5v1h-5zM264 35h4v1h-4zM0 36h8v1h-8zM11 36h9v1h-9zM22 36h7v1h-7zM114 36h6v1h-6zM149 36h13v1h-13zM174 36h66v1h-66zM241 36h8v1h-8zM264 36h5v1h-5zM0 37h18v1h-18zM114 37h7v3h-7zM150 37h11v1h-11zM189 37h59v1h-59zM264 37h6v1h-6zM0 38h16v1h-16zM151 38h10v2h-10zM191 38h57v1h-57zM264 38h7v2h-7zM0 39h15v1h-15zM192 39h56v1h-56zM0 40h14v1h-14zM115 40h4v1h-4zM151 40h11v1h-11zM192 40h57v1h-57zM262 40h9v1h-9zM0 41h12v1h-12zM151 41h12v1h-12zM191 41h60v1h-60zM261 41h9v1h-9zM0 42h11v1h-11zM151 42h14v1h-14zM179 42h76v1h-76zM258 42h9v1h-9zM274 42h7v1h-7zM0 43h10v1h-10zM152 43h14v1h-14zM178 43h87v1h-87zM273 43h8v2h-8zM0 44h9v1h-9zM152 44h15v1h-15zM177 44h87v2h-87zM0 45h8v1h-8zM153 45h14v1h-14zM272 45h9v2h-9zM0 46h7v1h-7zM155 46h11v1h-11zM178 46h85v1h-85zM0 47h5v1h-5zM158 47h5v1h-5zM180 47h84v1h-84zM271 47h10v1h-10zM192 48h13v1h-13zM213 48h52v1h-52zM270 48h11v1h-11zM196 49h5v1h-5zM214 49h66v1h-66zM215 50h64v1h-64zM216 51h62v1h-62zM218 52h59v1h-59zM220 53h15v1h-15zM243 53h20v1h-20zM268 53h8v1h-8zM246 54h13v1h-13zM247 55h11v1h-11zM247 56h10v1h-10zM247 57h9v2h-9zM246 59h10v1h-10zM212 60h6v1h-6zM230 60h9v1h-9zM245 60h11v1h-11zM210 61h46v1h-46zM209 62h47v1h-47zM208 63h49v1h-49zM170 64h22v1h-22zM207 64h51v1h-51zM0 65h2v1h-2zM134 65h20v1h-20zM166 65h30v1h-30zM206 65h7v1h-7zM218 65h5v1h-5zM227 65h18v1h-18zM251 65h8v1h-8zM269 65h4v1h-4zM0 66h5v1h-5zM120 66h20v1h-20zM148 66h50v1h-50zM204 66h7v1h-7zM230 66h13v1h-13zM253 66h9v1h-9zM264 66h8v1h-8zM0 67h6v1h-6zM117 67h17v1h-17zM154 67h14v1h-14zM189 67h21v1h-21zM230 67h12v1h-12zM254 67h17v1h-17zM0 68h7v1h-7zM105 68h17v1h-17zM192 68h16v1h-16zM231 68h10v1h-10zM255 68h16v1h-16zM0 69h8v1h-8zM104 69h15v1h-15zM194 69h12v1h-12zM233 69h6v1h-6zM256 69h16v1h-16zM0 70h9v1h-9zM102 70h15v1h-15zM257 70h15v1h-15zM0 71h10v1h-10zM57 71h6v1h-6zM101 71h14v1h-14zM259 71h13v1h-13zM0 72h25v1h-25zM54 72h11v1h-11zM90 72h23v1h-23zM261 72h12v1h-12zM0 73h77v1h-77zM89 73h23v2h-23zM263 73h11v1h-11zM0 74h79v1h-79zM264 74h11v1h-11zM0 75h80v1h-80zM88 75h24v1h-24zM266 75h10v1h-10zM0 76h81v1h-81zM88 76h23v1h-23zM271 76h2v1h-2zM0 77h14v1h-14zM17 77h65v1h-65zM87 77h22v1h-22zM22 78h85v1h-85zM23 79h83v1h-83zM24 80h80v2h-80zM25 82h78v1h-78zM27 83h74v1h-74zM61 84h29v1h-29zM63 85h26v1h-26zM64 86h24v2h-24zM65 88h23v1h-23zM66 89h22v1h-22zM68 90h20v1h-20zM70 91h18v1h-18zM72 92h16v1h-16zM73 93h14v1h-14zM73 94h11v1h-11zM74 95h7v1h-7zM75 96h3v1h-3zM242 101h10v1h-10zM241 102h13v1h-13zM240 103h15v2h-15zM240 105h16v1h-16zM239 106h18v1h-18zM238 107h21v1h-21zM235 108h26v1h-26zM233 109h30v1h-30zM232 110h31v1h-31zM232 111h32v6h-32z"/><path fill="#66ff66" d="M0 0h16v4h-16zM232 0h8v4h-8zM252 0h53v1h-53zM252 1h42v1h-42zM251 2h43v2h-43zM0 4h15v1h-15zM235 4h6v1h-6zM251 4h45v1h-45zM0 5h13v1h-13zM252 5h27v1h-27zM285 5h6v2h-6zM294 5h4v1h-4zM304 5h1v1h-1zM0 6h11v1h-11zM255 6h25v1h-25zM294 6h6v1h-6zM302 6h3v1h-3zM0 7h9v1h-9zM256 7h49v4h-49zM0 8h8v7h-8zM220 10h1v1h-1zM218 11h5v1h-5zM254 11h51v1h-51zM217 12h17v1h-17zM256 12h49v1h-49zM216 13h4v1h-4zM224 13h8v1h-8zM263 13h42v1h-42zM215 14h3v1h-3zM225 14h6v1h-6zM264 14h41v1h-41zM0 15h7v1h-7zM214 15h3v1h-3zM226 15h4v6h-4zM265 15h40v1h-40zM0 16h6v1h-6zM213 16h4v1h-4zM240 16h1v1h-1zM266 16h39v2h-39zM0 17h4v1h-4zM199 17h5v1h-5zM212 17h4v1h-4zM240 17h3v1h-3zM195 18h21v1h-21zM239 18h5v1h-5zM266 18h16v1h-16zM285 18h20v1h-20zM193 19h23v2h-23zM239 19h3v1h-3zM246 19h4v1h-4zM266 19h14v2h-14zM287 19h18v1h-18zM238 20h4v1h-4zM247 20h3v6h-3zM288 20h17v1h-17zM192 21h24v1h-24zM225 21h5v1h-5zM238 21h3v1h-3zM266 21h13v2h-13zM289 21h14v1h-14zM191 22h26v1h-26zM224 22h7v1h-7zM237 22h4v1h-4zM289 22h8v1h-8zM300 22h1v1h-1zM190 23h30v1h-30zM222 23h9v1h-9zM236 23h4v1h-4zM257 23h1v2h-1zM265 23h14v4h-14zM289 23h6v1h-6zM4 24h9v1h-9zM179 24h54v1h-54zM235 24h5v1h-5zM289 24h4v1h-4zM0 25h15v1h-15zM177 25h62v1h-62zM257 25h2v2h-2zM289 25h1v1h-1zM0 26h16v1h-16zM176 26h63v2h-63zM246 26h4v1h-4zM0 27h17v5h-17zM246 27h3v1h-3zM258 27h1v1h-1zM266 27h14v1h-14zM175 28h64v2h-64zM245 28h4v2h-4zM267 28h14v1h-14zM268 29h15v1h-15zM285 29h2v1h-2zM175 30h65v1h-65zM243 30h5v1h-5zM269 30h16v1h-16zM175 31h72v1h-72zM271 31h3v1h-3zM279 31h5v1h-5zM0 32h16v1h-16zM176 32h71v1h-71zM281 32h1v1h-1zM0 33h15v1h-15zM177 33h69v1h-69zM266 33h1v1h-1zM0 34h14v1h-14zM190 34h55v1h-55zM267 34h2v1h-2zM276 34h2v1h-2zM0 35h13v1h-13zM194 35h50v1h-50zM268 35h3v1h-3zM274 35h5v1h-5zM8 36h3v1h-3zM240 36h1v1h-1zM269 36h11v1h-11zM270 37h11v1h-11zM271 38h10v3h-10zM270 41h11v1h-11zM267 42h7v1h-7zM265 43h8v1h-8zM264 44h9v1h-9zM264 45h8v1h-8zM263 46h9v1h-9zM264 47h7v1h-7zM265 48h5v1h-5zM213 65h5v1h-5zM223 65h4v1h-4zM245 65h6v1h-6zM140 66h8v1h-8zM211 66h19v1h-19zM243 66h10v1h-10zM134 67h20v1h-20zM168 67h21v1h-21zM210 67h20v1h-20zM242 67h12v1h-12zM122 68h17v1h-17zM150 68h42v1h-42zM208 68h23v1h-23zM241 68h14v1h-14zM119 69h17v1h-17zM152 69h42v1h-42zM206 69h27v1h-27zM239 69h17v1h-17zM117 70h18v1h-18zM155 70h29v1h-29zM188 70h69v1h-69zM115 71h19v1h-19zM172 71h7v1h-7zM193 71h66v1h-66zM113 72h21v1h-21zM211 72h4v1h-4zM225 72h6v1h-6zM245 72h16v1h-16zM112 73h23v1h-23zM246 73h17v1h-17zM112 74h24v2h-24zM247 74h17v1h-17zM248 75h18v1h-18zM111 76h25v1h-25zM249 76h22v1h-22zM273 76h3v1h-3zM14 77h3v1h-3zM109 77h28v1h-28zM251 77h26v1h-26zM0 78h22v1h-22zM107 78h30v1h-30zM0 79h23v1h-23zM106 79h30v1h-30zM0 80h24v2h-24zM104 80h32v2h-32zM0 82h25v1h-25zM103 82h32v1h-32zM0 83h27v1h-27zM101 83h32v1h-32zM0 84h61v1h-61zM90 84h33v1h-33zM0 85h63v1h-63zM89 85h32v1h-32zM0 86h64v2h-64zM88 86h32v2h-32zM0 88h65v1h-65zM88 88h31v1h-31zM0 89h66v1h-66zM88 89h29v1h-29zM0 90h68v1h-68zM88 90h27v1h-27zM0 91h70v1h-70zM88 91h25v1h-25zM0 92h72v1h-72zM88 92h24v1h-24zM0 93h73v2h-73zM87 93h25v1h-25zM84 94h28v1h-28zM0 95h32v1h-32zM55 95h19v1h-19zM81 95h31v1h-31zM255 95h3v1h-3zM0 96h19v1h-19zM58 96h5v1h-5zM69 96h6v1h-6zM78 96h34v1h-34zM252 96h9v1h-9zM0 97h17v1h-17zM70 97h14v1h-14zM86 97h26v1h-26zM236 97h6v1h-6zM247 97h16v1h-16zM0 98h16v1h-16zM71 98h10v1h-10zM88 98h24v1h-24zM233 98h31v1h-31zM0 99h15v2h-15zM72 99h7v1h-7zM89 99h23v1h-23zM232 99h33v1h-33zM92 100h20v1h-20zM230 100h37v1h-37zM0 101h13v1h-13zM104 101h7v1h-7zM213 101h5v1h-5zM228 101h14v1h-14zM252 101h16v1h-16zM210 102h31v1h-31zM254 102h15v1h-15zM209 103h31v1h-31zM255 103h15v1h-15zM208 104h32v2h-32zM255 104h16v1h-16zM256 105h17v1h-17zM207 106h32v1h-32zM257 106h17v1h-17zM205 107h33v1h-33zM259 107h17v1h-17zM187 108h48v1h-48zM261 108h17v1h-17zM185 109h48v1h-48zM263 109h16v1h-16zM184 110h48v7h-48zM263 110h17v1h-17zM264 111h16v6h-16z"/><path fill="#ccff66" d="M220 13h4v1h-4zM218 14h7v1h-7zM217 15h9v2h-9zM216 17h10v4h-10zM244 18h1v1h-1zM282 18h3v1h-3zM242 19h4v1h-4zM280 19h7v1h-7zM242 20h5v1h-5zM280 20h8v1h-8zM216 21h9v1h-9zM241 21h6v2h-6zM279 21h10v6h-10zM217 22h7v1h-7zM220 23h2v1h-2zM240 23h7v2h-7zM239 25h8v1h-8zM239 26h7v2h-7zM280 27h8v1h-8zM239 28h6v2h-6zM281 28h6v1h-6zM283 29h2v1h-2zM240 30h3v1h-3zM139 68h11v1h-11zM136 69h16v1h-16zM135 70h20v1h-20zM184 70h4v1h-4zM134 71h38v1h-38zM179 71h14v1h-14zM134 72h77v1h-77zM215 72h10v1h-10zM231 72h14v1h-14zM135 73h52v1h-52zM192 73h54v1h-54zM136 74h49v1h-49zM206 74h27v1h-27zM240 74h7v1h-7zM136 75h48v2h-48zM209 75h21v1h-21zM242 75h6v1h-6zM212 76h15v1h-15zM243 76h6v1h-6zM137 77h47v2h-47zM216 77h7v1h-7zM244 77h7v1h-7zM245 78h32v1h-32zM136 79h48v2h-48zM246 79h32v1h-32zM247 80h18v1h-18zM136 81h47v1h-47zM248 81h16v1h-16zM135 82h48v1h-48zM248 82h15v4h-15zM133 83h48v1h-48zM123 84h56v1h-56zM121 85h57v1h-57zM120 86h57v1h-57zM248 86h16v3h-16zM120 87h55v1h-55zM119 88h55v1h-55zM117 89h55v1h-55zM249 89h15v1h-15zM115 90h55v1h-55zM249 90h14v2h-14zM113 91h56v1h-56zM112 92h56v2h-56zM248 92h16v1h-16zM247 93h18v1h-18zM112 94h57v1h-57zM245 94h21v1h-21zM32 95h23v1h-23zM112 95h58v1h-58zM201 95h4v1h-4zM231 95h24v1h-24zM258 95h9v1h-9zM19 96h39v1h-39zM63 96h6v1h-6zM112 96h61v1h-61zM175 96h48v1h-48zM228 96h24v1h-24zM261 96h7v1h-7zM283 96h4v1h-4zM17 97h20v1h-20zM41 97h6v1h-6zM50 97h20v1h-20zM84 97h2v1h-2zM112 97h124v1h-124zM242 97h5v1h-5zM263 97h6v1h-6zM282 97h5v1h-5zM16 98h17v1h-17zM55 98h16v1h-16zM81 98h7v1h-7zM112 98h121v1h-121zM264 98h6v1h-6zM281 98h8v1h-8zM15 99h16v1h-16zM57 99h15v1h-15zM79 99h10v1h-10zM112 99h120v1h-120zM265 99h7v1h-7zM280 99h10v1h-10zM15 100h15v1h-15zM61 100h31v1h-31zM112 100h118v1h-118zM267 100h6v1h-6zM280 100h12v1h-12zM13 101h16v1h-16zM66 101h38v1h-38zM111 101h102v1h-102zM218 101h10v1h-10zM268 101h6v1h-6zM279 101h15v1h-15zM0 102h27v1h-27zM69 102h141v1h-141zM269 102h27v1h-27zM0 103h26v1h-26zM77 103h15v1h-15zM100 103h109v1h-109zM270 103h27v1h-27zM0 104h25v1h-25zM79 104h10v1h-10zM103 104h105v1h-105zM271 104h27v1h-27zM0 105h24v2h-24zM80 105h8v1h-8zM104 105h104v1h-104zM273 105h27v1h-27zM81 106h7v1h-7zM106 106h101v1h-101zM274 106h27v1h-27zM0 107h23v4h-23zM82 107h4v1h-4zM108 107h97v1h-97zM276 107h25v1h-25zM117 108h70v1h-70zM278 108h23v1h-23zM119 109h66v1h-66zM279 109h22v1h-22zM120 110h64v7h-64zM280 110h21v7h-21zM0 111h22v6h-22z"/><path fill="#ccff33" d="M187 73h5v1h-5zM185 74h21v1h-21zM233 74h7v1h-7zM184 75h25v1h-25zM230 75h12v1h-12zM184 76h28v1h-28zM227 76h16v1h-16zM184 77h16v4h-16zM206 77h10v1h-10zM223 77h9v1h-9zM239 77h5v1h-5zM210 78h19v1h-19zM240 78h5v1h-5zM212 79h15v1h-15zM240 79h6v1h-6zM214 80h12v1h-12zM240 80h7v1h-7zM265 80h14v1h-14zM183 81h17v2h-17zM216 81h9v1h-9zM240 81h8v1h-8zM264 81h15v1h-15zM218 82h6v1h-6zM239 82h9v1h-9zM263 82h17v3h-17zM181 83h19v1h-19zM237 83h11v1h-11zM179 84h21v1h-21zM230 84h18v1h-18zM178 85h22v1h-22zM225 85h23v1h-23zM263 85h18v1h-18zM177 86h23v1h-23zM224 86h24v2h-24zM264 86h17v2h-17zM175 87h25v1h-25zM174 88h26v1h-26zM223 88h25v1h-25zM264 88h18v2h-18zM172 89h29v1h-29zM222 89h27v1h-27zM170 90h35v1h-35zM206 90h9v1h-9zM220 90h29v1h-29zM263 90h20v1h-20zM169 91h80v1h-80zM263 91h21v1h-21zM168 92h80v1h-80zM264 92h20v1h-20zM168 93h79v1h-79zM265 93h20v1h-20zM169 94h76v1h-76zM266 94h19v1h-19zM170 95h31v1h-31zM205 95h26v1h-26zM267 95h19v1h-19zM173 96h2v1h-2zM223 96h5v1h-5zM268 96h15v1h-15zM37 97h4v1h-4zM47 97h3v1h-3zM269 97h13v1h-13zM33 98h22v1h-22zM270 98h11v1h-11zM31 99h26v1h-26zM272 99h8v1h-8zM30 100h31v1h-31zM273 100h7v1h-7zM29 101h7v1h-7zM53 101h13v1h-13zM274 101h5v1h-5zM27 102h7v1h-7zM57 102h12v1h-12zM26 103h7v1h-7zM61 103h16v1h-16zM92 103h8v1h-8zM25 104h7v1h-7zM63 104h16v1h-16zM89 104h14v1h-14zM24 105h7v1h-7zM64 105h16v1h-16zM88 105h16v1h-16zM24 106h5v1h-5zM66 106h15v1h-15zM88 106h18v1h-18zM23 107h5v1h-5zM68 107h14v1h-14zM86 107h22v1h-22zM23 108h4v2h-4zM70 108h47v1h-47zM72 109h47v1h-47zM23 110h3v1h-3zM72 110h48v7h-48zM22 111h4v6h-4z"/><path fill="#ffcc33" d="M200 77h6v1h-6zM232 77h7v1h-7zM200 78h10v1h-10zM229 78h11v1h-11zM200 79h12v1h-12zM227 79h13v1h-13zM200 80h14v1h-14zM226 80h14v1h-14zM200 81h16v1h-16zM225 81h15v1h-15zM200 82h18v1h-18zM224 82h15v1h-15zM200 83h37v1h-37zM200 84h30v1h-30zM200 85h25v1h-25zM200 86h24v2h-24zM200 88h23v1h-23zM201 89h21v1h-21zM205 90h1v1h-1zM215 90h5v1h-5zM36 101h17v1h-17zM34 102h23v1h-23zM33 103h28v1h-28zM32 104h31v1h-31zM31 105h33v1h-33zM29 106h37v1h-37zM28 107h9v1h-9zM43 107h25v1h-25zM27 108h7v1h-7zM46 108h24v1h-24zM27 109h6v1h-6zM47 109h25v1h-25zM26 110h5v2h-5zM48 110h24v7h-24zM26 112h4v4h-4zM26 116h5v1h-5z"/><path fill="#ff9933" d="M37 107h6v1h-6zM34 108h12v1h-12zM33 109h14v1h-14zM31 110h17v2h-17zM30 112h18v4h-18zM31 116h17v1h-17z"/><path fill="#000" d="M68 0h4v1h-4zM205 0h25v1h-25zM246 0h6v2h-6zM68 1h5v1h-5zM205 1h26v1h-26zM294 1h11v3h-11zM69 2h4v1h-4zM206 2h26v1h-26zM245 2h6v1h-6zM70 3h1v1h-1zM208 3h24v1h-24zM244 3h7v1h-7zM209 4h26v1h-26zM243 4h8v1h-8zM296 4h9v1h-9zM211 5h41v1h-41zM279 5h6v1h-6zM291 5h3v2h-3zM298 5h6v1h-6zM212 6h40v1h-40zM280 6h5v1h-5zM300 6h2v1h-2zM214 7h39v1h-39zM216 8h36v1h-36zM218 9h34v1h-34zM221 10h31v1h-31zM223 11h29v1h-29zM235 12h21v1h-21zM237 13h26v1h-26zM238 14h26v1h-26zM240 15h25v1h-25zM241 16h25v1h-25zM243 17h23v1h-23zM245 18h21v1h-21zM250 19h16v1h-16zM255 20h11v1h-11zM256 21h10v1h-10zM303 21h2v1h-2zM257 22h9v1h-9zM297 22h3v1h-3zM301 22h4v1h-4zM258 23h7v2h-7zM295 23h10v1h-10zM293 24h12v1h-12zM259 25h6v2h-6zM290 25h15v1h-15zM289 26h16v1h-16zM259 27h7v1h-7zM288 27h17v1h-17zM260 28h7v1h-7zM287 28h18v2h-18zM261 29h7v1h-7zM262 30h7v1h-7zM285 30h20v1h-20zM263 31h8v1h-8zM274 31h5v1h-5zM284 31h21v1h-21zM265 32h16v1h-16zM282 32h23v1h-23zM267 33h38v1h-38zM269 34h7v1h-7zM278 34h27v1h-27zM271 35h3v1h-3zM279 35h26v1h-26zM280 36h25v1h-25zM281 37h24v12h-24zM280 49h25v1h-25zM279 50h26v1h-26zM278 51h27v1h-27zM277 52h28v1h-28zM276 53h29v1h-29zM275 54h30v1h-30zM274 55h31v1h-31zM243 56h2v1h-2zM273 56h32v7h-32zM243 57h3v2h-3zM274 63h31v2h-31zM273 65h32v1h-32zM272 66h33v1h-33zM271 67h34v2h-34zM272 69h33v3h-33zM273 72h32v1h-32zM274 73h31v1h-31zM275 74h30v1h-30zM276 75h29v2h-29zM277 77h28v2h-28zM278 79h27v1h-27zM279 80h26v2h-26zM280 82h25v3h-25zM281 85h24v3h-24zM282 88h23v2h-23zM283 90h22v1h-22zM284 91h21v2h-21zM285 93h20v2h-20zM286 95h19v1h-19zM287 96h18v2h-18zM289 98h16v1h-16zM290 99h15v1h-15zM292 100h13v1h-13zM294 101h11v1h-11zM296 102h9v1h-9zM297 103h8v1h-8zM298 104h7v1h-7zM300 105h5v1h-5zM301 106h4v11h-4z"/></svg><div class="eq" style="top:55.4px;height:1.3px;background:rgba(255,255,255,.7)"></div><div class="frame"></div><div class="noaa">NOAA</div></div>

<!-- lat labels upper -->
<div class="lat" style="left:2px;top:44px;">20N</div>
<div class="lat" style="left:2px;top:72px;">10N</div>
<div class="lat" style="left:2px;top:99px;">EQ</div>
<div class="lat" style="left:2px;top:127px;">10S</div>
<div class="lat" style="left:2px;top:155px;">20S</div>
<!-- lat labels lower -->
<div class="lat" style="left:3px;top:207px;">20N</div>
<div class="lat" style="left:3px;top:235px;">10N</div>
<div class="lat" style="left:3px;top:262px;">EQ</div>
<div class="lat" style="left:3px;top:290px;">10S</div>
<div class="lat" style="left:3px;top:318px;">20S</div>

<!-- lon labels -->
<div class="lon" style="left:33.5px;top:168px;">180</div>
<div class="lon" style="left:109.3px;top:168px;">150W</div>
<div class="lon" style="left:190.3px;top:168px;">120W</div>
<div class="lon" style="left:275.5px;top:168px;">90W</div>
<div class="lon" style="left:351.3px;top:168px;">180</div>
<div class="lon" style="left:427.7px;top:168px;">150W</div>
<div class="lon" style="left:509px;top:168px;">120W</div>
<div class="lon" style="left:594px;top:168px;">90W</div>

<div class="lon" style="left:34.3px;top:330px;">180</div>
<div class="lon" style="left:110.3px;top:330px;">150W</div>
<div class="lon" style="left:191.3px;top:330px;">120W</div>
<div class="lon" style="left:276.3px;top:330px;">90W</div>
<div class="lon" style="left:352px;top:330px;">180</div>
<div class="lon" style="left:428px;top:330px;">150W</div>
<div class="lon" style="left:510px;top:330px;">120W</div>
<div class="lon" style="left:594px;top:330px;">90W</div>

<!-- colorbar -->
<div class="cb" style="left:226.8px;background:#00007f;"></div>
<div class="cb" style="left:239.4px;background:#003399;"></div>
<div class="cb" style="left:252.0px;background:#3366ff;"></div>
<div class="cb" style="left:264.5px;background:#3366ff;"></div>
<div class="cb" style="left:277.1px;background:#6699ff;"></div>
<div class="cb" style="left:289.7px;background:#6699ff;"></div>
<div class="cb" style="left:302.2px;background:#7ea7f2;"></div>
<div class="cb" style="left:314.8px;background:#99ccff;"></div>
<div class="cb" style="left:327.4px;background:#a8cbee;"></div>
<div class="cb" style="left:339.9px;background:#ccffff;"></div>
<div class="cb" style="left:352.5px;background:#66ff66;"></div>
<div class="cb" style="left:365.1px;background:#ccff66;"></div>
<div class="cb" style="left:377.7px;background:#ccff33;"></div>
<div class="cb" style="left:390.2px;background:#ffcc33;"></div>
<div class="cb" style="left:402.8px;background:#ff9933;"></div>
<div class="cb" style="left:415.4px;background:#ff9900;"></div>
<div class="cb" style="left:427.9px;background:#ff6600;"></div>
<div class="cb" style="left:440.5px;background:#ff3300;"></div>
<div class="cb" style="left:453.1px;background:#cc0000;"></div>
<div class="cb" style="left:465.6px;background:#cc0000;"></div>

<div class="cl" style="left:223px;">-5</div>
<div class="cl" style="left:246px;">-4</div>
<div class="cl" style="left:270px;">-3</div>
<div class="cl" style="left:295px;">-2</div>
<div class="cl" style="left:321px;">-1</div>
<div class="cl" style="left:349px;">0</div>
<div class="cl" style="left:373.3px;">1</div>
<div class="cl" style="left:399px;">2</div>
<div class="cl" style="left:424px;">3</div>
<div class="cl" style="left:448px;">4</div>
<div class="cl" style="left:472.2px;">5</div>

<div class="t" style="left:569.8px;top:381px;font-size:10px;">NOAA / ESRL / PSD</div>
</body></html>
